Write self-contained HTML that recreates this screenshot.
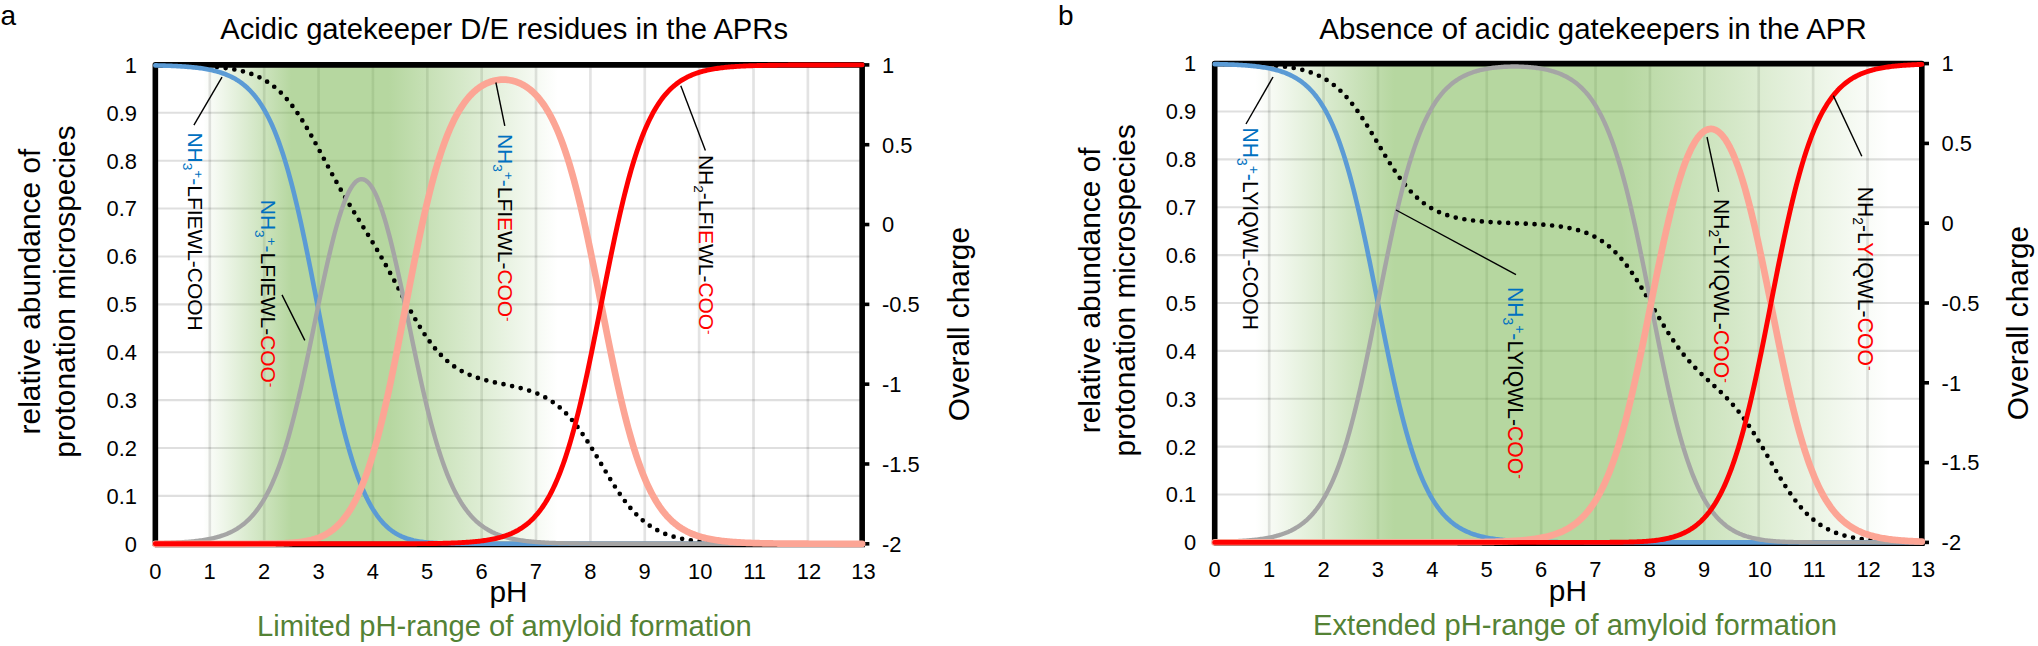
<!DOCTYPE html>
<html><head><meta charset="utf-8"><title>Protonation microspecies</title>
<style>html,body{margin:0;padding:0;background:#fff}svg{display:block}</style></head>
<body>
<svg width="2038" height="646" viewBox="0 0 2038 646" font-family='"Liberation Sans", sans-serif' fill="#000">
<defs><linearGradient id="ga" x1="0" y1="0" x2="1" y2="0"><stop offset="0.0000" stop-color="#6daf41" stop-opacity="0.000"/><stop offset="0.0677" stop-color="#6daf41" stop-opacity="0.000"/><stop offset="0.1923" stop-color="#6daf41" stop-opacity="0.500"/><stop offset="0.3308" stop-color="#6daf41" stop-opacity="0.500"/><stop offset="0.5692" stop-color="#6daf41" stop-opacity="0.000"/><stop offset="1.0000" stop-color="#6daf41" stop-opacity="0.000"/></linearGradient></defs>
<path d="M209.82 64.90V543.80M264.19 64.90V543.80M318.56 64.90V543.80M372.93 64.90V543.80M427.30 64.90V543.80M481.67 64.90V543.80M536.03 64.90V543.80M590.40 64.90V543.80M644.77 64.90V543.80M699.14 64.90V543.80M753.51 64.90V543.80M807.88 64.90V543.80" stroke="#000" stroke-opacity="0.11" stroke-width="2.7" fill="none"/>
<path d="M155.35 495.91H862.15M155.35 448.02H862.15M155.35 400.13H862.15M155.35 352.24H862.15M155.35 304.35H862.15M155.35 256.46H862.15M155.35 208.57H862.15M155.35 160.68H862.15M155.35 112.79H862.15" stroke="#000" stroke-opacity="0.125" stroke-width="2.1" fill="none"/>
<rect x="155.35" y="64.90" width="706.80" height="478.90" fill="url(#ga)"/>
<path d="M155.35 545.80V64.90H862.15V546.60" stroke="#000" stroke-width="5.60" fill="none" stroke-linejoin="round"/>
<path d="M154.85 544.55H864.95" stroke="#000" stroke-width="5.60" fill="none"/>
<path d="M862.15 64.90h7.20" stroke="#000" stroke-width="3.6"/>
<path d="M862.15 144.72h7.20" stroke="#000" stroke-width="3.6"/>
<path d="M862.15 224.53h7.20" stroke="#000" stroke-width="3.6"/>
<path d="M862.15 304.35h7.20" stroke="#000" stroke-width="3.6"/>
<path d="M862.15 384.17h7.20" stroke="#000" stroke-width="3.6"/>
<path d="M862.15 463.98h7.20" stroke="#000" stroke-width="3.6"/>
<path d="M862.15 543.80h7.20" stroke="#000" stroke-width="3.6"/>
<path d="M155.35 65.06L156.71 65.07L158.07 65.08L159.43 65.09L160.79 65.11L162.15 65.12L163.51 65.13L164.86 65.14L166.22 65.16L167.58 65.17L168.94 65.19L170.30 65.21L171.66 65.23L173.02 65.24L174.38 65.26L175.74 65.29L177.10 65.31L178.46 65.33L179.82 65.36L181.18 65.39L182.53 65.41L183.89 65.45L185.25 65.48L186.61 65.51L187.97 65.55L189.33 65.59L190.69 65.63L192.05 65.67L193.41 65.71L194.77 65.76L196.13 65.81L197.49 65.87L198.85 65.92L200.20 65.98L201.56 66.05L202.92 66.12L204.28 66.19L205.64 66.26L207.00 66.34L208.36 66.43L209.72 66.52L211.08 66.61L212.44 66.71L213.80 66.82L215.16 66.93L216.52 67.05L217.87 67.18L219.23 67.31L220.59 67.45L221.95 67.60L223.31 67.76L224.67 67.92L226.03 68.10L227.39 68.28L228.75 68.48L230.11 68.69L231.47 68.91L232.83 69.14L234.19 69.38L235.54 69.64L236.90 69.91L238.26 70.20L239.62 70.50L240.98 70.82L242.34 71.16L243.70 71.52L245.06 71.89L246.42 72.29L247.78 72.71L249.14 73.15L250.50 73.61L251.86 74.10L253.21 74.61L254.57 75.15L255.93 75.72L257.29 76.32L258.65 76.95L260.01 77.61L261.37 78.30L262.73 79.03L264.09 79.79L265.45 80.59L266.81 81.43L268.17 82.31L269.53 83.23L270.88 84.19L272.24 85.19L273.60 86.24L274.96 87.34L276.32 88.49L277.68 89.68L279.04 90.92L280.40 92.21L281.76 93.56L283.12 94.96L284.48 96.41L285.84 97.91L287.20 99.47L288.55 101.08L289.91 102.75L291.27 104.47L292.63 106.25L293.99 108.08L295.35 109.96L296.71 111.90L298.07 113.88L299.43 115.92L300.79 118.01L302.15 120.14L303.51 122.32L304.87 124.55L306.22 126.81L307.58 129.12L308.94 131.46L310.30 133.83L311.66 136.24L313.02 138.67L314.38 141.13L315.74 143.61L317.10 146.11L318.46 148.63L319.82 151.16L321.18 153.69L322.54 156.24L323.89 158.78L325.25 161.33L326.61 163.88L327.97 166.41L329.33 168.95L330.69 171.47L332.05 173.98L333.41 176.48L334.77 178.96L336.13 181.42L337.49 183.87L338.85 186.29L340.21 188.70L341.56 191.09L342.92 193.46L344.28 195.81L345.64 198.14L347.00 200.45L348.36 202.74L349.72 205.01L351.08 207.27L352.44 209.52L353.80 211.75L355.16 213.97L356.52 216.18L357.88 218.39L359.23 220.59L360.59 222.78L361.95 224.97L363.31 227.17L364.67 229.36L366.03 231.56L367.39 233.77L368.75 235.98L370.11 238.21L371.47 240.45L372.83 242.70L374.19 244.96L375.55 247.25L376.90 249.55L378.26 251.87L379.62 254.20L380.98 256.56L382.34 258.94L383.70 261.33L385.06 263.75L386.42 266.19L387.78 268.64L389.14 271.11L390.50 273.60L391.86 276.10L393.22 278.62L394.57 281.15L395.93 283.68L397.29 286.23L398.65 288.77L400.01 291.32L401.37 293.87L402.73 296.41L404.09 298.95L405.45 301.48L406.81 303.99L408.17 306.48L409.53 308.96L410.89 311.41L412.24 313.84L413.60 316.24L414.96 318.60L416.32 320.93L417.68 323.22L419.04 325.48L420.40 327.69L421.76 329.85L423.12 331.98L424.48 334.05L425.84 336.07L427.20 338.04L428.56 339.97L429.91 341.83L431.27 343.65L432.63 345.41L433.99 347.12L435.35 348.77L436.71 350.37L438.07 351.92L439.43 353.41L440.79 354.85L442.15 356.24L443.51 357.57L444.87 358.86L446.23 360.09L447.58 361.28L448.94 362.42L450.30 363.51L451.66 364.56L453.02 365.56L454.38 366.53L455.74 367.45L457.10 368.33L458.46 369.18L459.82 369.98L461.18 370.76L462.54 371.49L463.90 372.20L465.25 372.88L466.61 373.52L467.97 374.14L469.33 374.73L470.69 375.29L472.05 375.84L473.41 376.35L474.77 376.85L476.13 377.32L477.49 377.78L478.85 378.22L480.21 378.64L481.57 379.04L482.92 379.43L484.28 379.81L485.64 380.17L487.00 380.52L488.36 380.86L489.72 381.19L491.08 381.52L492.44 381.83L493.80 382.14L495.16 382.44L496.52 382.73L497.88 383.03L499.24 383.31L500.59 383.60L501.95 383.88L503.31 384.16L504.67 384.45L506.03 384.73L507.39 385.02L508.75 385.30L510.11 385.59L511.47 385.89L512.83 386.19L514.19 386.50L515.55 386.81L516.91 387.13L518.26 387.46L519.62 387.80L520.98 388.15L522.34 388.52L523.70 388.89L525.06 389.28L526.42 389.68L527.78 390.10L529.14 390.54L530.50 390.99L531.86 391.46L533.22 391.96L534.58 392.47L535.93 393.01L537.29 393.57L538.65 394.16L540.01 394.77L541.37 395.41L542.73 396.08L544.09 396.78L545.45 397.52L546.81 398.28L548.17 399.08L549.53 399.92L550.89 400.79L552.25 401.70L553.60 402.65L554.96 403.65L556.32 404.68L557.68 405.76L559.04 406.88L560.40 408.05L561.76 409.26L563.12 410.52L564.48 411.83L565.84 413.19L567.20 414.60L568.56 416.06L569.92 417.57L571.27 419.13L572.63 420.74L573.99 422.40L575.35 424.11L576.71 425.87L578.07 427.68L579.43 429.53L580.79 431.43L582.15 433.37L583.51 435.36L584.87 437.39L586.23 439.46L587.59 441.56L588.94 443.70L590.30 445.87L591.66 448.07L593.02 450.29L594.38 452.53L595.74 454.79L597.10 457.07L598.46 459.36L599.82 461.65L601.18 463.95L602.54 466.25L603.90 468.55L605.26 470.83L606.61 473.11L607.97 475.37L609.33 477.61L610.69 479.83L612.05 482.03L613.41 484.19L614.77 486.33L616.13 488.43L617.49 490.49L618.85 492.52L620.21 494.50L621.57 496.44L622.93 498.34L624.28 500.19L625.64 501.99L627.00 503.74L628.36 505.44L629.72 507.09L631.08 508.70L632.44 510.25L633.80 511.75L635.16 513.20L636.52 514.60L637.88 515.95L639.24 517.24L640.60 518.49L641.95 519.70L643.31 520.85L644.67 521.96L646.03 523.02L647.39 524.04L648.75 525.02L650.11 525.95L651.47 526.84L652.83 527.69L654.19 528.51L655.55 529.29L656.91 530.03L658.27 530.74L659.62 531.41L660.98 532.05L662.34 532.66L663.70 533.25L665.06 533.80L666.42 534.33L667.78 534.83L669.14 535.30L670.50 535.75L671.86 536.18L673.22 536.59L674.58 536.97L675.94 537.34L677.29 537.69L678.65 538.02L680.01 538.33L681.37 538.63L682.73 538.91L684.09 539.17L685.45 539.42L686.81 539.66L688.17 539.89L689.53 540.10L690.89 540.30L692.25 540.50L693.61 540.68L694.96 540.85L696.32 541.01L697.68 541.16L699.04 541.31L700.40 541.45L701.76 541.58L703.12 541.70L704.48 541.82L705.84 541.93L707.20 542.03L708.56 542.13L709.92 542.22L711.28 542.31L712.63 542.39L713.99 542.47L715.35 542.54L716.71 542.61L718.07 542.68L719.43 542.74L720.79 542.80L722.15 542.85L723.51 542.91L724.87 542.96L726.23 543.00L727.59 543.05L728.95 543.09L730.30 543.13L731.66 543.17L733.02 543.20L734.38 543.24L735.74 543.27L737.10 543.30L738.46 543.32L739.82 543.35L741.18 543.38L742.54 543.40L743.90 543.42L745.26 543.44L746.62 543.46L747.97 543.48L749.33 543.50L750.69 543.52L752.05 543.53L753.41 543.55L754.77 543.56L756.13 543.57L757.49 543.59L758.85 543.60L760.21 543.61L761.57 543.62L762.93 543.63L764.29 543.64L765.64 543.65L767.00 543.66L768.36 543.67L769.72 543.67L771.08 543.68L772.44 543.69L773.80 543.69L775.16 543.70L776.52 543.70L777.88 543.71L779.24 543.72L780.60 543.72L781.96 543.72L783.31 543.73L784.67 543.73L786.03 543.74L787.39 543.74L788.75 543.74L790.11 543.75L791.47 543.75L792.83 543.75L794.19 543.76L795.55 543.76L796.91 543.76L798.27 543.76L799.63 543.76L800.98 543.77L802.34 543.77L803.70 543.77L805.06 543.77L806.42 543.77L807.78 543.77L809.14 543.78L810.50 543.78L811.86 543.78L813.22 543.78L814.58 543.78L815.94 543.78L817.30 543.78L818.65 543.78L820.01 543.78L821.37 543.79L822.73 543.79L824.09 543.79L825.45 543.79L826.81 543.79L828.17 543.79L829.53 543.79L830.89 543.79L832.25 543.79L833.61 543.79L834.97 543.79L836.32 543.79L837.68 543.79L839.04 543.79L840.40 543.79L841.76 543.79L843.12 543.79L844.48 543.79L845.84 543.79L847.20 543.80L848.56 543.80L849.92 543.80L851.28 543.80L852.64 543.80L853.99 543.80L855.35 543.80L856.71 543.80L858.07 543.80L859.43 543.80L860.79 543.80L862.15 543.80" stroke="#000" stroke-width="4.7" stroke-dasharray="0 8.8" stroke-linecap="round" fill="none"/>
<path d="M155.35 65.39L156.71 65.42L158.07 65.45L159.43 65.48L160.79 65.52L162.15 65.55L163.51 65.59L164.86 65.63L166.22 65.68L167.58 65.72L168.94 65.77L170.30 65.82L171.66 65.88L173.02 65.93L174.38 65.99L175.74 66.06L177.10 66.13L178.46 66.20L179.82 66.28L181.18 66.36L182.53 66.44L183.89 66.54L185.25 66.63L186.61 66.73L187.97 66.84L189.33 66.96L190.69 67.08L192.05 67.21L193.41 67.34L194.77 67.49L196.13 67.64L197.49 67.80L198.85 67.97L200.20 68.15L201.56 68.34L202.92 68.55L204.28 68.76L205.64 68.99L207.00 69.23L208.36 69.48L209.72 69.75L211.08 70.04L212.44 70.34L213.80 70.66L215.16 70.99L216.52 71.35L217.87 71.73L219.23 72.12L220.59 72.55L221.95 72.99L223.31 73.46L224.67 73.96L226.03 74.49L227.39 75.04L228.75 75.63L230.11 76.25L231.47 76.91L232.83 77.60L234.19 78.33L235.54 79.11L236.90 79.92L238.26 80.78L239.62 81.69L240.98 82.65L242.34 83.66L243.70 84.73L245.06 85.86L246.42 87.04L247.78 88.29L249.14 89.61L250.50 90.99L251.86 92.45L253.21 93.99L254.57 95.60L255.93 97.30L257.29 99.09L258.65 100.97L260.01 102.94L261.37 105.01L262.73 107.18L264.09 109.46L265.45 111.85L266.81 114.35L268.17 116.97L269.53 119.71L270.88 122.57L272.24 125.57L273.60 128.70L274.96 131.96L276.32 135.36L277.68 138.91L279.04 142.60L280.40 146.44L281.76 150.43L283.12 154.57L284.48 158.87L285.84 163.32L287.20 167.92L288.55 172.69L289.91 177.61L291.27 182.68L292.63 187.91L293.99 193.29L295.35 198.83L296.71 204.50L298.07 210.33L299.43 216.28L300.79 222.37L302.15 228.59L303.51 234.93L304.87 241.38L306.22 247.94L307.58 254.59L308.94 261.33L310.30 268.15L311.66 275.03L313.02 281.97L314.38 288.96L315.74 295.98L317.10 303.02L318.46 310.08L319.82 317.13L321.18 324.17L322.54 331.19L323.89 338.17L325.25 345.11L326.61 351.99L327.97 358.80L329.33 365.53L330.69 372.17L332.05 378.72L333.41 385.16L334.77 391.48L336.13 397.68L337.49 403.76L338.85 409.70L340.21 415.50L341.56 421.15L342.92 426.66L344.28 432.01L345.64 437.21L347.00 442.25L348.36 447.14L349.72 451.86L351.08 456.43L352.44 460.83L353.80 465.08L355.16 469.17L356.52 473.11L357.88 476.89L359.23 480.51L360.59 483.99L361.95 487.33L363.31 490.51L364.67 493.56L366.03 496.47L367.39 499.25L368.75 501.90L370.11 504.42L371.47 506.82L372.83 509.11L374.19 511.27L375.55 513.33L376.90 515.28L378.26 517.13L379.62 518.88L380.98 520.53L382.34 522.10L383.70 523.57L385.06 524.96L386.42 526.27L387.78 527.51L389.14 528.67L390.50 529.76L391.86 530.78L393.22 531.74L394.57 532.64L395.93 533.48L397.29 534.27L398.65 535.01L400.01 535.69L401.37 536.33L402.73 536.93L404.09 537.48L405.45 537.99L406.81 538.47L408.17 538.91L409.53 539.32L410.89 539.70L412.24 540.05L413.60 540.38L414.96 540.67L416.32 540.95L417.68 541.20L419.04 541.43L420.40 541.65L421.76 541.84L423.12 542.02L424.48 542.18L425.84 542.33L427.20 542.47L428.56 542.60L429.91 542.71L431.27 542.81L432.63 542.91L433.99 543.00L435.35 543.07L436.71 543.14L438.07 543.21L439.43 543.27L440.79 543.32L442.15 543.37L443.51 543.41L444.87 543.45L446.23 543.48L447.58 543.52L448.94 543.55L450.30 543.57L451.66 543.59L453.02 543.62L454.38 543.63L455.74 543.65L457.10 543.67L458.46 543.68L459.82 543.69L461.18 543.70L462.54 543.71L463.90 543.72L465.25 543.73L466.61 543.74L467.97 543.75L469.33 543.75L470.69 543.76L472.05 543.76L473.41 543.76L474.77 543.77L476.13 543.77L477.49 543.77L478.85 543.78L480.21 543.78L481.57 543.78L482.92 543.78L484.28 543.79L485.64 543.79L487.00 543.79L488.36 543.79L489.72 543.79L491.08 543.79L492.44 543.79L493.80 543.79L495.16 543.79L496.52 543.79L497.88 543.80L499.24 543.80L500.59 543.80L501.95 543.80L503.31 543.80L504.67 543.80L506.03 543.80L507.39 543.80L508.75 543.80L510.11 543.80L511.47 543.80L512.83 543.80L514.19 543.80L515.55 543.80L516.91 543.80L518.26 543.80L519.62 543.80L520.98 543.80L522.34 543.80L523.70 543.80L525.06 543.80L526.42 543.80L527.78 543.80L529.14 543.80L530.50 543.80L531.86 543.80L533.22 543.80L534.58 543.80L535.93 543.80L537.29 543.80L538.65 543.80L540.01 543.80L541.37 543.80L542.73 543.80L544.09 543.80L545.45 543.80L546.81 543.80L548.17 543.80L549.53 543.80L550.89 543.80L552.25 543.80L553.60 543.80L554.96 543.80L556.32 543.80L557.68 543.80L559.04 543.80L560.40 543.80L561.76 543.80L563.12 543.80L564.48 543.80L565.84 543.80L567.20 543.80L568.56 543.80L569.92 543.80L571.27 543.80L572.63 543.80L573.99 543.80L575.35 543.80L576.71 543.80L578.07 543.80L579.43 543.80L580.79 543.80L582.15 543.80L583.51 543.80L584.87 543.80L586.23 543.80L587.59 543.80L588.94 543.80L590.30 543.80L591.66 543.80L593.02 543.80L594.38 543.80L595.74 543.80L597.10 543.80L598.46 543.80L599.82 543.80L601.18 543.80L602.54 543.80L603.90 543.80L605.26 543.80L606.61 543.80L607.97 543.80L609.33 543.80L610.69 543.80L612.05 543.80L613.41 543.80L614.77 543.80L616.13 543.80L617.49 543.80L618.85 543.80L620.21 543.80L621.57 543.80L622.93 543.80L624.28 543.80L625.64 543.80L627.00 543.80L628.36 543.80L629.72 543.80L631.08 543.80L632.44 543.80L633.80 543.80L635.16 543.80L636.52 543.80L637.88 543.80L639.24 543.80L640.60 543.80L641.95 543.80L643.31 543.80L644.67 543.80L646.03 543.80L647.39 543.80L648.75 543.80L650.11 543.80L651.47 543.80L652.83 543.80L654.19 543.80L655.55 543.80L656.91 543.80L658.27 543.80L659.62 543.80L660.98 543.80L662.34 543.80L663.70 543.80L665.06 543.80L666.42 543.80L667.78 543.80L669.14 543.80L670.50 543.80L671.86 543.80L673.22 543.80L674.58 543.80L675.94 543.80L677.29 543.80L678.65 543.80L680.01 543.80L681.37 543.80L682.73 543.80L684.09 543.80L685.45 543.80L686.81 543.80L688.17 543.80L689.53 543.80L690.89 543.80L692.25 543.80L693.61 543.80L694.96 543.80L696.32 543.80L697.68 543.80L699.04 543.80L700.40 543.80L701.76 543.80L703.12 543.80L704.48 543.80L705.84 543.80L707.20 543.80L708.56 543.80L709.92 543.80L711.28 543.80L712.63 543.80L713.99 543.80L715.35 543.80L716.71 543.80L718.07 543.80L719.43 543.80L720.79 543.80L722.15 543.80L723.51 543.80L724.87 543.80L726.23 543.80L727.59 543.80L728.95 543.80L730.30 543.80L731.66 543.80L733.02 543.80L734.38 543.80L735.74 543.80L737.10 543.80L738.46 543.80L739.82 543.80L741.18 543.80L742.54 543.80L743.90 543.80L745.26 543.80L746.62 543.80L747.97 543.80L749.33 543.80L750.69 543.80L752.05 543.80L753.41 543.80L754.77 543.80L756.13 543.80L757.49 543.80L758.85 543.80L760.21 543.80L761.57 543.80L762.93 543.80L764.29 543.80L765.64 543.80L767.00 543.80L768.36 543.80L769.72 543.80L771.08 543.80L772.44 543.80L773.80 543.80L775.16 543.80L776.52 543.80L777.88 543.80L779.24 543.80L780.60 543.80L781.96 543.80L783.31 543.80L784.67 543.80L786.03 543.80L787.39 543.80L788.75 543.80L790.11 543.80L791.47 543.80L792.83 543.80L794.19 543.80L795.55 543.80L796.91 543.80L798.27 543.80L799.63 543.80L800.98 543.80L802.34 543.80L803.70 543.80L805.06 543.80L806.42 543.80L807.78 543.80L809.14 543.80L810.50 543.80L811.86 543.80L813.22 543.80L814.58 543.80L815.94 543.80L817.30 543.80L818.65 543.80L820.01 543.80L821.37 543.80L822.73 543.80L824.09 543.80L825.45 543.80L826.81 543.80L828.17 543.80L829.53 543.80L830.89 543.80L832.25 543.80L833.61 543.80L834.97 543.80L836.32 543.80L837.68 543.80L839.04 543.80L840.40 543.80L841.76 543.80L843.12 543.80L844.48 543.80L845.84 543.80L847.20 543.80L848.56 543.80L849.92 543.80L851.28 543.80L852.64 543.80L853.99 543.80L855.35 543.80L856.71 543.80L858.07 543.80L859.43 543.80L860.79 543.80L862.15 543.80" stroke="#5b9bd5" stroke-width="4.6" stroke-linecap="round" stroke-linejoin="round" fill="none"/>
<path d="M155.35 543.31L156.71 543.28L158.07 543.25L159.43 543.22L160.79 543.18L162.15 543.15L163.51 543.11L164.86 543.07L166.22 543.02L167.58 542.98L168.94 542.93L170.30 542.88L171.66 542.82L173.02 542.77L174.38 542.71L175.74 542.64L177.10 542.57L178.46 542.50L179.82 542.42L181.18 542.34L182.53 542.26L183.89 542.16L185.25 542.07L186.61 541.97L187.97 541.86L189.33 541.74L190.69 541.62L192.05 541.49L193.41 541.36L194.77 541.21L196.13 541.06L197.49 540.90L198.85 540.73L200.20 540.55L201.56 540.36L202.92 540.15L204.28 539.94L205.64 539.71L207.00 539.47L208.36 539.22L209.72 538.95L211.08 538.66L212.44 538.36L213.80 538.05L215.16 537.71L216.52 537.35L217.87 536.98L219.23 536.58L220.59 536.16L221.95 535.71L223.31 535.24L224.67 534.74L226.03 534.22L227.39 533.66L228.75 533.07L230.11 532.45L231.47 531.80L232.83 531.11L234.19 530.38L235.54 529.60L236.90 528.79L238.26 527.93L239.62 527.02L240.98 526.06L242.34 525.05L243.70 523.99L245.06 522.87L246.42 521.69L247.78 520.44L249.14 519.13L250.50 517.74L251.86 516.29L253.21 514.76L254.57 513.15L255.93 511.45L257.29 509.67L258.65 507.81L260.01 505.84L261.37 503.78L262.73 501.62L264.09 499.35L265.45 496.98L266.81 494.49L268.17 491.89L269.53 489.17L270.88 486.32L272.24 483.35L273.60 480.24L274.96 477.01L276.32 473.63L277.68 470.12L279.04 466.47L280.40 462.67L281.76 458.72L283.12 454.63L284.48 450.39L285.84 446.00L287.20 441.46L288.55 436.77L289.91 431.93L291.27 426.94L292.63 421.81L293.99 416.54L295.35 411.13L296.71 405.58L298.07 399.90L299.43 394.10L300.79 388.17L302.15 382.14L303.51 376.01L304.87 369.78L306.22 363.46L307.58 357.07L308.94 350.61L310.30 344.11L311.66 337.56L313.02 330.98L314.38 324.38L315.74 317.78L317.10 311.20L318.46 304.63L319.82 298.11L321.18 291.63L322.54 285.23L323.89 278.90L325.25 272.67L326.61 266.55L327.97 260.55L329.33 254.68L330.69 248.96L332.05 243.40L333.41 238.01L334.77 232.81L336.13 227.79L337.49 222.98L338.85 218.39L340.21 214.01L341.56 209.87L342.92 205.96L344.28 202.30L345.64 198.89L347.00 195.73L348.36 192.84L349.72 190.22L351.08 187.87L352.44 185.79L353.80 183.99L355.16 182.47L356.52 181.24L357.88 180.29L359.23 179.63L360.59 179.25L361.95 179.17L363.31 179.37L364.67 179.86L366.03 180.64L367.39 181.70L368.75 183.05L370.11 184.68L371.47 186.59L372.83 188.78L374.19 191.24L375.55 193.97L376.90 196.97L378.26 200.23L379.62 203.74L380.98 207.50L382.34 211.50L383.70 215.74L385.06 220.21L386.42 224.89L387.78 229.79L389.14 234.88L390.50 240.16L391.86 245.62L393.22 251.25L394.57 257.03L395.93 262.95L397.29 269.00L398.65 275.17L400.01 281.45L401.37 287.81L402.73 294.24L404.09 300.74L405.45 307.28L406.81 313.86L408.17 320.45L409.53 327.06L410.89 333.65L412.24 340.22L413.60 346.76L414.96 353.25L416.32 359.68L417.68 366.04L419.04 372.33L420.40 378.52L421.76 384.62L423.12 390.61L424.48 396.49L425.84 402.25L427.20 407.87L428.56 413.37L429.91 418.73L431.27 423.95L432.63 429.03L433.99 433.96L435.35 438.74L436.71 443.37L438.07 447.85L439.43 452.18L440.79 456.37L442.15 460.40L443.51 464.29L444.87 468.03L446.23 471.63L447.58 475.09L448.94 478.41L450.30 481.59L451.66 484.64L453.02 487.57L454.38 490.36L455.74 493.04L457.10 495.60L458.46 498.04L459.82 500.37L461.18 502.60L462.54 504.72L463.90 506.74L465.25 508.67L466.61 510.50L467.97 512.25L469.33 513.91L470.69 515.49L472.05 516.99L473.41 518.41L474.77 519.77L476.13 521.05L477.49 522.27L478.85 523.43L480.21 524.53L481.57 525.58L482.92 526.56L484.28 527.50L485.64 528.39L487.00 529.23L488.36 530.03L489.72 530.79L491.08 531.50L492.44 532.18L493.80 532.82L495.16 533.43L496.52 534.00L497.88 534.55L499.24 535.06L500.59 535.55L501.95 536.01L503.31 536.44L504.67 536.86L506.03 537.24L507.39 537.61L508.75 537.96L510.11 538.29L511.47 538.60L512.83 538.90L514.19 539.17L515.55 539.44L516.91 539.68L518.26 539.92L519.62 540.14L520.98 540.35L522.34 540.55L523.70 540.73L525.06 540.91L526.42 541.08L527.78 541.24L529.14 541.38L530.50 541.53L531.86 541.66L533.22 541.78L534.58 541.90L535.93 542.01L537.29 542.12L538.65 542.22L540.01 542.31L541.37 542.40L542.73 542.48L544.09 542.56L545.45 542.64L546.81 542.71L548.17 542.78L549.53 542.84L550.89 542.90L552.25 542.95L553.60 543.01L554.96 543.05L556.32 543.10L557.68 543.15L559.04 543.19L560.40 543.23L561.76 543.26L563.12 543.30L564.48 543.33L565.84 543.36L567.20 543.39L568.56 543.42L569.92 543.44L571.27 543.47L572.63 543.49L573.99 543.51L575.35 543.53L576.71 543.55L578.07 543.57L579.43 543.58L580.79 543.60L582.15 543.61L583.51 543.63L584.87 543.64L586.23 543.65L587.59 543.66L588.94 543.67L590.30 543.68L591.66 543.69L593.02 543.70L594.38 543.71L595.74 543.72L597.10 543.72L598.46 543.73L599.82 543.73L601.18 543.74L602.54 543.74L603.90 543.75L605.26 543.75L606.61 543.76L607.97 543.76L609.33 543.76L610.69 543.77L612.05 543.77L613.41 543.77L614.77 543.78L616.13 543.78L617.49 543.78L618.85 543.78L620.21 543.78L621.57 543.78L622.93 543.79L624.28 543.79L625.64 543.79L627.00 543.79L628.36 543.79L629.72 543.79L631.08 543.79L632.44 543.79L633.80 543.79L635.16 543.79L636.52 543.80L637.88 543.80L639.24 543.80L640.60 543.80L641.95 543.80L643.31 543.80L644.67 543.80L646.03 543.80L647.39 543.80L648.75 543.80L650.11 543.80L651.47 543.80L652.83 543.80L654.19 543.80L655.55 543.80L656.91 543.80L658.27 543.80L659.62 543.80L660.98 543.80L662.34 543.80L663.70 543.80L665.06 543.80L666.42 543.80L667.78 543.80L669.14 543.80L670.50 543.80L671.86 543.80L673.22 543.80L674.58 543.80L675.94 543.80L677.29 543.80L678.65 543.80L680.01 543.80L681.37 543.80L682.73 543.80L684.09 543.80L685.45 543.80L686.81 543.80L688.17 543.80L689.53 543.80L690.89 543.80L692.25 543.80L693.61 543.80L694.96 543.80L696.32 543.80L697.68 543.80L699.04 543.80L700.40 543.80L701.76 543.80L703.12 543.80L704.48 543.80L705.84 543.80L707.20 543.80L708.56 543.80L709.92 543.80L711.28 543.80L712.63 543.80L713.99 543.80L715.35 543.80L716.71 543.80L718.07 543.80L719.43 543.80L720.79 543.80L722.15 543.80L723.51 543.80L724.87 543.80L726.23 543.80L727.59 543.80L728.95 543.80L730.30 543.80L731.66 543.80L733.02 543.80L734.38 543.80L735.74 543.80L737.10 543.80L738.46 543.80L739.82 543.80L741.18 543.80L742.54 543.80L743.90 543.80L745.26 543.80L746.62 543.80L747.97 543.80L749.33 543.80L750.69 543.80L752.05 543.80L753.41 543.80L754.77 543.80L756.13 543.80L757.49 543.80L758.85 543.80L760.21 543.80L761.57 543.80L762.93 543.80L764.29 543.80L765.64 543.80L767.00 543.80L768.36 543.80L769.72 543.80L771.08 543.80L772.44 543.80L773.80 543.80L775.16 543.80L776.52 543.80L777.88 543.80L779.24 543.80L780.60 543.80L781.96 543.80L783.31 543.80L784.67 543.80L786.03 543.80L787.39 543.80L788.75 543.80L790.11 543.80L791.47 543.80L792.83 543.80L794.19 543.80L795.55 543.80L796.91 543.80L798.27 543.80L799.63 543.80L800.98 543.80L802.34 543.80L803.70 543.80L805.06 543.80L806.42 543.80L807.78 543.80L809.14 543.80L810.50 543.80L811.86 543.80L813.22 543.80L814.58 543.80L815.94 543.80L817.30 543.80L818.65 543.80L820.01 543.80L821.37 543.80L822.73 543.80L824.09 543.80L825.45 543.80L826.81 543.80L828.17 543.80L829.53 543.80L830.89 543.80L832.25 543.80L833.61 543.80L834.97 543.80L836.32 543.80L837.68 543.80L839.04 543.80L840.40 543.80L841.76 543.80L843.12 543.80L844.48 543.80L845.84 543.80L847.20 543.80L848.56 543.80L849.92 543.80L851.28 543.80L852.64 543.80L853.99 543.80L855.35 543.80L856.71 543.80L858.07 543.80L859.43 543.80L860.79 543.80L862.15 543.80" stroke="#a5a5a5" stroke-width="4.4" stroke-linecap="round" stroke-linejoin="round" fill="none"/>
<path d="M155.35 543.80L156.71 543.80L158.07 543.80L159.43 543.80L160.79 543.80L162.15 543.80L163.51 543.80L164.86 543.80L166.22 543.80L167.58 543.80L168.94 543.80L170.30 543.80L171.66 543.80L173.02 543.80L174.38 543.80L175.74 543.80L177.10 543.80L178.46 543.80L179.82 543.80L181.18 543.80L182.53 543.80L183.89 543.80L185.25 543.80L186.61 543.80L187.97 543.80L189.33 543.80L190.69 543.80L192.05 543.80L193.41 543.80L194.77 543.80L196.13 543.80L197.49 543.80L198.85 543.80L200.20 543.80L201.56 543.80L202.92 543.80L204.28 543.80L205.64 543.80L207.00 543.80L208.36 543.80L209.72 543.80L211.08 543.80L212.44 543.80L213.80 543.80L215.16 543.80L216.52 543.80L217.87 543.80L219.23 543.80L220.59 543.80L221.95 543.80L223.31 543.80L224.67 543.80L226.03 543.80L227.39 543.79L228.75 543.79L230.11 543.79L231.47 543.79L232.83 543.79L234.19 543.79L235.54 543.79L236.90 543.79L238.26 543.79L239.62 543.79L240.98 543.78L242.34 543.78L243.70 543.78L245.06 543.78L246.42 543.77L247.78 543.77L249.14 543.77L250.50 543.76L251.86 543.76L253.21 543.75L254.57 543.75L255.93 543.74L257.29 543.74L258.65 543.73L260.01 543.72L261.37 543.71L262.73 543.70L264.09 543.69L265.45 543.68L266.81 543.66L268.17 543.65L269.53 543.63L270.88 543.61L272.24 543.59L273.60 543.56L274.96 543.53L276.32 543.50L277.68 543.47L279.04 543.43L280.40 543.39L281.76 543.35L283.12 543.30L284.48 543.24L285.84 543.18L287.20 543.12L288.55 543.04L289.91 542.96L291.27 542.87L292.63 542.77L293.99 542.67L295.35 542.55L296.71 542.42L298.07 542.28L299.43 542.12L300.79 541.95L302.15 541.76L303.51 541.56L304.87 541.34L306.22 541.10L307.58 540.84L308.94 540.56L310.30 540.25L311.66 539.92L313.02 539.55L314.38 539.16L315.74 538.74L317.10 538.28L318.46 537.79L319.82 537.26L321.18 536.69L322.54 536.08L323.89 535.42L325.25 534.72L326.61 533.96L327.97 533.15L329.33 532.29L330.69 531.37L332.05 530.38L333.41 529.33L334.77 528.21L336.13 527.02L337.49 525.76L338.85 524.42L340.21 522.99L341.56 521.48L342.92 519.88L344.28 518.19L345.64 516.40L347.00 514.51L348.36 512.52L349.72 510.42L351.08 508.21L352.44 505.88L353.80 503.43L355.16 500.86L356.52 498.16L357.88 495.33L359.23 492.36L360.59 489.26L361.95 486.01L363.31 482.62L364.67 479.08L366.03 475.39L367.39 471.55L368.75 467.56L370.11 463.40L371.47 459.09L372.83 454.62L374.19 449.99L375.55 445.20L376.90 440.26L378.26 435.15L379.62 429.89L380.98 424.48L382.34 418.91L383.70 413.20L385.06 407.34L386.42 401.35L387.78 395.22L389.14 388.97L390.50 382.60L391.86 376.12L393.22 369.54L394.57 362.86L395.93 356.10L397.29 349.26L398.65 342.36L400.01 335.40L401.37 328.41L402.73 321.38L404.09 314.34L405.45 307.28L406.81 300.23L408.17 293.20L409.53 286.20L410.89 279.23L412.24 272.32L413.60 265.47L414.96 258.69L416.32 251.99L417.68 245.38L419.04 238.88L420.40 232.48L421.76 226.20L423.12 220.04L424.48 214.01L425.84 208.12L427.20 202.37L428.56 196.76L429.91 191.31L431.27 186.00L432.63 180.85L433.99 175.86L435.35 171.02L436.71 166.34L438.07 161.82L439.43 157.46L440.79 153.25L442.15 149.20L443.51 145.30L444.87 141.56L446.23 137.96L447.58 134.51L448.94 131.20L450.30 128.03L451.66 125.01L453.02 122.11L454.38 119.35L455.74 116.71L457.10 114.20L458.46 111.80L459.82 109.52L461.18 107.36L462.54 105.30L463.90 103.35L465.25 101.50L466.61 99.75L467.97 98.09L469.33 96.52L470.69 95.04L472.05 93.65L473.41 92.34L474.77 91.11L476.13 89.95L477.49 88.87L478.85 87.85L480.21 86.91L481.57 86.03L482.92 85.22L484.28 84.46L485.64 83.77L487.00 83.14L488.36 82.56L489.72 82.04L491.08 81.57L492.44 81.15L493.80 80.79L495.16 80.48L496.52 80.21L497.88 80.00L499.24 79.83L500.59 79.71L501.95 79.64L503.31 79.62L504.67 79.64L506.03 79.71L507.39 79.83L508.75 79.99L510.11 80.21L511.47 80.47L512.83 80.79L514.19 81.15L515.55 81.56L516.91 82.03L518.26 82.55L519.62 83.13L520.98 83.76L522.34 84.45L523.70 85.20L525.06 86.01L526.42 86.89L527.78 87.83L529.14 88.84L530.50 89.92L531.86 91.08L533.22 92.31L534.58 93.61L535.93 95.00L537.29 96.48L538.65 98.04L540.01 99.69L541.37 101.44L542.73 103.28L544.09 105.22L545.45 107.27L546.81 109.43L548.17 111.70L549.53 114.08L550.89 116.58L552.25 119.20L553.60 121.95L554.96 124.83L556.32 127.84L557.68 130.98L559.04 134.27L560.40 137.69L561.76 141.26L563.12 144.98L564.48 148.84L565.84 152.86L567.20 157.03L568.56 161.35L569.92 165.83L571.27 170.46L572.63 175.24L573.99 180.18L575.35 185.27L576.71 190.50L578.07 195.89L579.43 201.42L580.79 207.09L582.15 212.90L583.51 218.83L584.87 224.89L586.23 231.07L587.59 237.36L588.94 243.75L590.30 250.24L591.66 256.81L593.02 263.46L594.38 270.18L595.74 276.95L597.10 283.77L598.46 290.62L599.82 297.49L601.18 304.38L602.54 311.27L603.90 318.14L605.26 325.00L606.61 331.82L607.97 338.59L609.33 345.31L610.69 351.96L612.05 358.54L613.41 365.04L614.77 371.44L616.13 377.73L617.49 383.92L618.85 389.99L620.21 395.94L621.57 401.76L622.93 407.44L624.28 412.98L625.64 418.38L627.00 423.64L628.36 428.74L629.72 433.70L631.08 438.51L632.44 443.16L633.80 447.66L635.16 452.00L636.52 456.20L637.88 460.25L639.24 464.14L640.60 467.89L641.95 471.50L643.31 474.96L644.67 478.28L646.03 481.47L647.39 484.53L648.75 487.45L650.11 490.25L651.47 492.93L652.83 495.49L654.19 497.93L655.55 500.26L656.91 502.49L658.27 504.61L659.62 506.63L660.98 508.56L662.34 510.39L663.70 512.14L665.06 513.80L666.42 515.38L667.78 516.88L669.14 518.30L670.50 519.66L671.86 520.94L673.22 522.16L674.58 523.32L675.94 524.42L677.29 525.46L678.65 526.45L680.01 527.39L681.37 528.28L682.73 529.12L684.09 529.92L685.45 530.67L686.81 531.39L688.17 532.07L689.53 532.71L690.89 533.31L692.25 533.89L693.61 534.43L694.96 534.95L696.32 535.43L697.68 535.89L699.04 536.33L700.40 536.74L701.76 537.13L703.12 537.50L704.48 537.85L705.84 538.18L707.20 538.49L708.56 538.78L709.92 539.06L711.28 539.32L712.63 539.57L713.99 539.80L715.35 540.03L716.71 540.24L718.07 540.43L719.43 540.62L720.79 540.80L722.15 540.96L723.51 541.12L724.87 541.27L726.23 541.41L727.59 541.54L728.95 541.67L730.30 541.79L731.66 541.90L733.02 542.01L734.38 542.11L735.74 542.20L737.10 542.29L738.46 542.37L739.82 542.45L741.18 542.53L742.54 542.60L743.90 542.67L745.26 542.73L746.62 542.79L747.97 542.85L749.33 542.90L750.69 542.95L752.05 543.00L753.41 543.04L754.77 543.08L756.13 543.12L757.49 543.16L758.85 543.20L760.21 543.23L761.57 543.26L762.93 543.29L764.29 543.32L765.64 543.35L767.00 543.37L768.36 543.40L769.72 543.42L771.08 543.44L772.44 543.46L773.80 543.48L775.16 543.50L776.52 543.51L777.88 543.53L779.24 543.55L780.60 543.56L781.96 543.57L783.31 543.59L784.67 543.60L786.03 543.61L787.39 543.62L788.75 543.63L790.11 543.64L791.47 543.65L792.83 543.66L794.19 543.67L795.55 543.67L796.91 543.68L798.27 543.69L799.63 543.69L800.98 543.70L802.34 543.70L803.70 543.71L805.06 543.71L806.42 543.72L807.78 543.72L809.14 543.73L810.50 543.73L811.86 543.74L813.22 543.74L814.58 543.74L815.94 543.75L817.30 543.75L818.65 543.75L820.01 543.75L821.37 543.76L822.73 543.76L824.09 543.76L825.45 543.76L826.81 543.77L828.17 543.77L829.53 543.77L830.89 543.77L832.25 543.77L833.61 543.77L834.97 543.78L836.32 543.78L837.68 543.78L839.04 543.78L840.40 543.78L841.76 543.78L843.12 543.78L844.48 543.78L845.84 543.78L847.20 543.79L848.56 543.79L849.92 543.79L851.28 543.79L852.64 543.79L853.99 543.79L855.35 543.79L856.71 543.79L858.07 543.79L859.43 543.79L860.79 543.79L862.15 543.79" stroke="#fca595" stroke-width="6.7" stroke-linecap="round" stroke-linejoin="round" fill="none"/>
<path d="M155.35 543.80L156.71 543.80L158.07 543.80L159.43 543.80L160.79 543.80L162.15 543.80L163.51 543.80L164.86 543.80L166.22 543.80L167.58 543.80L168.94 543.80L170.30 543.80L171.66 543.80L173.02 543.80L174.38 543.80L175.74 543.80L177.10 543.80L178.46 543.80L179.82 543.80L181.18 543.80L182.53 543.80L183.89 543.80L185.25 543.80L186.61 543.80L187.97 543.80L189.33 543.80L190.69 543.80L192.05 543.80L193.41 543.80L194.77 543.80L196.13 543.80L197.49 543.80L198.85 543.80L200.20 543.80L201.56 543.80L202.92 543.80L204.28 543.80L205.64 543.80L207.00 543.80L208.36 543.80L209.72 543.80L211.08 543.80L212.44 543.80L213.80 543.80L215.16 543.80L216.52 543.80L217.87 543.80L219.23 543.80L220.59 543.80L221.95 543.80L223.31 543.80L224.67 543.80L226.03 543.80L227.39 543.80L228.75 543.80L230.11 543.80L231.47 543.80L232.83 543.80L234.19 543.80L235.54 543.80L236.90 543.80L238.26 543.80L239.62 543.80L240.98 543.80L242.34 543.80L243.70 543.80L245.06 543.80L246.42 543.80L247.78 543.80L249.14 543.80L250.50 543.80L251.86 543.80L253.21 543.80L254.57 543.80L255.93 543.80L257.29 543.80L258.65 543.80L260.01 543.80L261.37 543.80L262.73 543.80L264.09 543.80L265.45 543.80L266.81 543.80L268.17 543.80L269.53 543.80L270.88 543.80L272.24 543.80L273.60 543.80L274.96 543.80L276.32 543.80L277.68 543.80L279.04 543.80L280.40 543.80L281.76 543.80L283.12 543.80L284.48 543.80L285.84 543.80L287.20 543.80L288.55 543.80L289.91 543.80L291.27 543.80L292.63 543.80L293.99 543.80L295.35 543.80L296.71 543.80L298.07 543.80L299.43 543.80L300.79 543.80L302.15 543.80L303.51 543.80L304.87 543.80L306.22 543.80L307.58 543.80L308.94 543.80L310.30 543.80L311.66 543.80L313.02 543.80L314.38 543.80L315.74 543.80L317.10 543.80L318.46 543.80L319.82 543.80L321.18 543.80L322.54 543.80L323.89 543.80L325.25 543.80L326.61 543.80L327.97 543.80L329.33 543.80L330.69 543.80L332.05 543.80L333.41 543.80L334.77 543.80L336.13 543.80L337.49 543.80L338.85 543.80L340.21 543.80L341.56 543.80L342.92 543.80L344.28 543.80L345.64 543.80L347.00 543.80L348.36 543.80L349.72 543.80L351.08 543.80L352.44 543.80L353.80 543.80L355.16 543.80L356.52 543.80L357.88 543.80L359.23 543.80L360.59 543.80L361.95 543.80L363.31 543.80L364.67 543.80L366.03 543.80L367.39 543.80L368.75 543.80L370.11 543.80L371.47 543.79L372.83 543.79L374.19 543.79L375.55 543.79L376.90 543.79L378.26 543.79L379.62 543.79L380.98 543.79L382.34 543.79L383.70 543.79L385.06 543.79L386.42 543.78L387.78 543.78L389.14 543.78L390.50 543.78L391.86 543.78L393.22 543.77L394.57 543.77L395.93 543.77L397.29 543.77L398.65 543.76L400.01 543.76L401.37 543.75L402.73 543.75L404.09 543.75L405.45 543.74L406.81 543.74L408.17 543.73L409.53 543.72L410.89 543.72L412.24 543.71L413.60 543.70L414.96 543.69L416.32 543.68L417.68 543.67L419.04 543.66L420.40 543.65L421.76 543.64L423.12 543.63L424.48 543.61L425.84 543.60L427.20 543.58L428.56 543.57L429.91 543.55L431.27 543.53L432.63 543.51L433.99 543.49L435.35 543.47L436.71 543.44L438.07 543.42L439.43 543.39L440.79 543.36L442.15 543.33L443.51 543.30L444.87 543.26L446.23 543.23L447.58 543.19L448.94 543.15L450.30 543.10L451.66 543.06L453.02 543.01L454.38 542.95L455.74 542.90L457.10 542.84L458.46 542.78L459.82 542.71L461.18 542.64L462.54 542.56L463.90 542.49L465.25 542.40L466.61 542.31L467.97 542.22L469.33 542.12L470.69 542.01L472.05 541.90L473.41 541.78L474.77 541.66L476.13 541.53L477.49 541.38L478.85 541.24L480.21 541.08L481.57 540.91L482.92 540.74L484.28 540.55L485.64 540.35L487.00 540.14L488.36 539.92L489.72 539.68L491.08 539.44L492.44 539.17L493.80 538.90L495.16 538.60L496.52 538.29L497.88 537.96L499.24 537.61L500.59 537.24L501.95 536.86L503.31 536.44L504.67 536.01L506.03 535.55L507.39 535.06L508.75 534.55L510.11 534.00L511.47 533.43L512.83 532.82L514.19 532.18L515.55 531.50L516.91 530.79L518.26 530.03L519.62 529.23L520.98 528.39L522.34 527.50L523.70 526.56L525.06 525.58L526.42 524.53L527.78 523.43L529.14 522.27L530.50 521.05L531.86 519.77L533.22 518.41L534.58 516.98L535.93 515.48L537.29 513.90L538.65 512.24L540.01 510.50L541.37 508.66L542.73 506.73L544.09 504.71L545.45 502.59L546.81 500.36L548.17 498.03L549.53 495.58L550.89 493.02L552.25 490.35L553.60 487.55L554.96 484.62L556.32 481.56L557.68 478.37L559.04 475.05L560.40 471.58L561.76 467.98L563.12 464.22L564.48 460.33L565.84 456.28L567.20 452.08L568.56 447.73L569.92 443.23L571.27 438.58L572.63 433.77L573.99 428.81L575.35 423.70L576.71 418.45L578.07 413.04L579.43 407.50L580.79 401.81L582.15 395.99L583.51 390.04L584.87 383.97L586.23 377.78L587.59 371.48L588.94 365.07L590.30 358.58L591.66 351.99L593.02 345.34L594.38 338.61L595.74 331.83L597.10 325.01L598.46 318.15L599.82 311.27L601.18 304.38L602.54 297.49L603.90 290.61L605.26 283.75L606.61 276.93L607.97 270.15L609.33 263.43L610.69 256.77L612.05 250.19L613.41 243.69L614.77 237.29L616.13 230.99L617.49 224.80L618.85 218.73L620.21 212.78L621.57 206.96L622.93 201.28L624.28 195.73L625.64 190.33L627.00 185.07L628.36 179.96L629.72 175.01L631.08 170.20L632.44 165.55L633.80 161.05L635.16 156.70L636.52 152.50L637.88 148.46L639.24 144.56L640.60 140.81L641.95 137.21L643.31 133.74L644.67 130.42L646.03 127.23L647.39 124.18L648.75 121.25L650.11 118.45L651.47 115.77L652.83 113.21L654.19 110.77L655.55 108.44L656.91 106.21L658.27 104.09L659.62 102.07L660.98 100.14L662.34 98.31L663.70 96.56L665.06 94.90L666.42 93.32L667.78 91.82L669.14 90.40L670.50 89.04L671.86 87.76L673.22 86.54L674.58 85.38L675.94 84.28L677.29 83.24L678.65 82.25L680.01 81.31L681.37 80.42L682.73 79.58L684.09 78.78L685.45 78.03L686.81 77.31L688.17 76.63L689.53 75.99L690.89 75.39L692.25 74.81L693.61 74.27L694.96 73.75L696.32 73.27L697.68 72.81L699.04 72.37L700.40 71.96L701.76 71.57L703.12 71.20L704.48 70.85L705.84 70.52L707.20 70.21L708.56 69.92L709.92 69.64L711.28 69.38L712.63 69.13L713.99 68.90L715.35 68.67L716.71 68.46L718.07 68.27L719.43 68.08L720.79 67.90L722.15 67.74L723.51 67.58L724.87 67.43L726.23 67.29L727.59 67.16L728.95 67.03L730.30 66.91L731.66 66.80L733.02 66.69L734.38 66.59L735.74 66.50L737.10 66.41L738.46 66.33L739.82 66.25L741.18 66.17L742.54 66.10L743.90 66.03L745.26 65.97L746.62 65.91L747.97 65.85L749.33 65.80L750.69 65.75L752.05 65.70L753.41 65.66L754.77 65.62L756.13 65.58L757.49 65.54L758.85 65.50L760.21 65.47L761.57 65.44L762.93 65.41L764.29 65.38L765.64 65.35L767.00 65.33L768.36 65.30L769.72 65.28L771.08 65.26L772.44 65.24L773.80 65.22L775.16 65.20L776.52 65.19L777.88 65.17L779.24 65.15L780.60 65.14L781.96 65.13L783.31 65.11L784.67 65.10L786.03 65.09L787.39 65.08L788.75 65.07L790.11 65.06L791.47 65.05L792.83 65.04L794.19 65.03L795.55 65.03L796.91 65.02L798.27 65.01L799.63 65.01L800.98 65.00L802.34 65.00L803.70 64.99L805.06 64.99L806.42 64.98L807.78 64.98L809.14 64.97L810.50 64.97L811.86 64.96L813.22 64.96L814.58 64.96L815.94 64.95L817.30 64.95L818.65 64.95L820.01 64.95L821.37 64.94L822.73 64.94L824.09 64.94L825.45 64.94L826.81 64.93L828.17 64.93L829.53 64.93L830.89 64.93L832.25 64.93L833.61 64.93L834.97 64.92L836.32 64.92L837.68 64.92L839.04 64.92L840.40 64.92L841.76 64.92L843.12 64.92L844.48 64.92L845.84 64.92L847.20 64.91L848.56 64.91L849.92 64.91L851.28 64.91L852.64 64.91L853.99 64.91L855.35 64.91L856.71 64.91L858.07 64.91L859.43 64.91L860.79 64.91L862.15 64.91" stroke="#ff0000" stroke-width="4.9" stroke-linecap="round" stroke-linejoin="round" fill="none"/>
<path d="M222.0 77.2L193.9 125.1" stroke="#000" stroke-width="1.4" fill="none"/>
<path d="M282.0 294.9L304.8 340.4" stroke="#000" stroke-width="1.4" fill="none"/>
<path d="M495.9 82.5L504.8 125.9" stroke="#000" stroke-width="1.4" fill="none"/>
<path d="M680.8 85.7L705.4 150.5" stroke="#000" stroke-width="1.4" fill="none"/>
<text x="137.0" y="551.6" font-size="21.9" text-anchor="end">0</text>
<text x="137.0" y="503.8" font-size="21.9" text-anchor="end">0.1</text>
<text x="137.0" y="455.9" font-size="21.9" text-anchor="end">0.2</text>
<text x="137.0" y="408.0" font-size="21.9" text-anchor="end">0.3</text>
<text x="137.0" y="360.1" font-size="21.9" text-anchor="end">0.4</text>
<text x="137.0" y="312.2" font-size="21.9" text-anchor="end">0.5</text>
<text x="137.0" y="264.3" font-size="21.9" text-anchor="end">0.6</text>
<text x="137.0" y="216.4" font-size="21.9" text-anchor="end">0.7</text>
<text x="137.0" y="168.5" font-size="21.9" text-anchor="end">0.8</text>
<text x="137.0" y="120.6" font-size="21.9" text-anchor="end">0.9</text>
<text x="137.0" y="72.7" font-size="21.9" text-anchor="end">1</text>
<text x="155.3" y="578.6" font-size="21.9" text-anchor="middle">0</text>
<text x="209.7" y="578.6" font-size="21.9" text-anchor="middle">1</text>
<text x="264.1" y="578.6" font-size="21.9" text-anchor="middle">2</text>
<text x="318.5" y="578.6" font-size="21.9" text-anchor="middle">3</text>
<text x="372.8" y="578.6" font-size="21.9" text-anchor="middle">4</text>
<text x="427.2" y="578.6" font-size="21.9" text-anchor="middle">5</text>
<text x="481.6" y="578.6" font-size="21.9" text-anchor="middle">6</text>
<text x="535.9" y="578.6" font-size="21.9" text-anchor="middle">7</text>
<text x="590.3" y="578.6" font-size="21.9" text-anchor="middle">8</text>
<text x="644.7" y="578.6" font-size="21.9" text-anchor="middle">9</text>
<text x="700.2" y="578.6" font-size="21.9" text-anchor="middle">10</text>
<text x="754.6" y="578.6" font-size="21.9" text-anchor="middle">11</text>
<text x="809.0" y="578.6" font-size="21.9" text-anchor="middle">12</text>
<text x="863.4" y="578.6" font-size="21.9" text-anchor="middle">13</text>
<text x="882.0" y="72.7" font-size="21.9">1</text>
<text x="882.0" y="152.6" font-size="21.9">0.5</text>
<text x="882.0" y="232.4" font-size="21.9">0</text>
<text x="882.0" y="312.2" font-size="21.9">-0.5</text>
<text x="882.0" y="392.0" font-size="21.9">-1</text>
<text x="882.0" y="471.8" font-size="21.9">-1.5</text>
<text x="882.0" y="551.6" font-size="21.9">-2</text>
<text x="0.5" y="24.7" font-size="28.0">a</text>
<text x="504.1" y="38.9" font-size="29.2" text-anchor="middle">Acidic gatekeeper D/E residues in the APRs</text>
<text x="508.6" y="602.0" font-size="29.8" text-anchor="middle">pH</text>
<text x="504.4" y="636.4" font-size="29.2" text-anchor="middle" fill="#548235">Limited pH-range of amyloid formation</text>
<text transform="translate(40.2 291.5) rotate(-90)" font-size="29.9" text-anchor="middle">relative abundance of</text>
<text transform="translate(74.5 291.5) rotate(-90)" font-size="29.9" text-anchor="middle">protonation microspecies</text>
<text transform="translate(968.9 324.1) rotate(-90)" font-size="29.9" text-anchor="middle">Overall charge</text>
<text transform="translate(188.0 132.5) rotate(90)" font-size="20.95"><tspan fill="#0070c0">NH</tspan><tspan fill="#0070c0" font-size="13.6" dy="5.03">3</tspan><tspan fill="#0070c0" font-size="13.6" dy="-11.52">+</tspan><tspan fill="#0070c0" dy="6.49">-</tspan><tspan fill="#000">LFIEWL-COOH</tspan></text>
<text transform="translate(260.5 199.8) rotate(90)" font-size="20.95"><tspan fill="#0070c0">NH</tspan><tspan fill="#0070c0" font-size="13.6" dy="5.03">3</tspan><tspan fill="#0070c0" font-size="13.6" dy="-11.52">+</tspan><tspan fill="#0070c0" dy="6.49">-</tspan><tspan fill="#000">LFIEWL-</tspan><tspan fill="#ff0000">COO</tspan><tspan fill="#ff0000" font-size="13.6" dy="-6.49">-</tspan></text>
<text transform="translate(498.0 134.0) rotate(90)" font-size="20.95"><tspan fill="#0070c0">NH</tspan><tspan fill="#0070c0" font-size="13.6" dy="5.03">3</tspan><tspan fill="#0070c0" font-size="13.6" dy="-11.52">+</tspan><tspan fill="#0070c0" dy="6.49">-</tspan><tspan fill="#000">LFI</tspan><tspan fill="#ff0000">E</tspan><tspan fill="#000">WL-</tspan><tspan fill="#ff0000">COO</tspan><tspan fill="#ff0000" font-size="13.6" dy="-6.49">-</tspan></text>
<text transform="translate(699.0 155.0) rotate(90)" font-size="20.95"><tspan fill="#000">NH</tspan><tspan fill="#000" font-size="13.6" dy="5.03">2</tspan><tspan fill="#000" dy="-5.03">-LFI</tspan><tspan fill="#ff0000">E</tspan><tspan fill="#000">WL-</tspan><tspan fill="#ff0000">COO</tspan><tspan fill="#ff0000" font-size="13.6" dy="-6.49">-</tspan></text>
<defs><linearGradient id="gb" x1="0" y1="0" x2="1" y2="0"><stop offset="0.0000" stop-color="#6daf41" stop-opacity="0.000"/><stop offset="0.0577" stop-color="#6daf41" stop-opacity="0.000"/><stop offset="0.2538" stop-color="#6daf41" stop-opacity="0.500"/><stop offset="0.5769" stop-color="#6daf41" stop-opacity="0.500"/><stop offset="0.9538" stop-color="#6daf41" stop-opacity="0.000"/><stop offset="1.0000" stop-color="#6daf41" stop-opacity="0.000"/></linearGradient></defs>
<path d="M1269.19 63.60V542.40M1323.58 63.60V542.40M1377.98 63.60V542.40M1432.37 63.60V542.40M1486.76 63.60V542.40M1541.15 63.60V542.40M1595.55 63.60V542.40M1649.94 63.60V542.40M1704.33 63.60V542.40M1758.72 63.60V542.40M1813.12 63.60V542.40M1867.51 63.60V542.40" stroke="#000" stroke-opacity="0.11" stroke-width="2.7" fill="none"/>
<path d="M1214.70 494.52H1921.80M1214.70 446.64H1921.80M1214.70 398.76H1921.80M1214.70 350.88H1921.80M1214.70 303.00H1921.80M1214.70 255.12H1921.80M1214.70 207.24H1921.80M1214.70 159.36H1921.80M1214.70 111.48H1921.80" stroke="#000" stroke-opacity="0.125" stroke-width="2.1" fill="none"/>
<rect x="1214.70" y="63.60" width="707.10" height="478.80" fill="url(#gb)"/>
<path d="M1214.70 544.40V63.60H1921.80V545.20" stroke="#000" stroke-width="5.60" fill="none" stroke-linejoin="round"/>
<path d="M1214.20 543.15H1924.60" stroke="#000" stroke-width="5.60" fill="none"/>
<path d="M1921.80 63.60h7.20" stroke="#000" stroke-width="3.6"/>
<path d="M1921.80 143.40h7.20" stroke="#000" stroke-width="3.6"/>
<path d="M1921.80 223.20h7.20" stroke="#000" stroke-width="3.6"/>
<path d="M1921.80 303.00h7.20" stroke="#000" stroke-width="3.6"/>
<path d="M1921.80 382.80h7.20" stroke="#000" stroke-width="3.6"/>
<path d="M1921.80 462.60h7.20" stroke="#000" stroke-width="3.6"/>
<path d="M1921.80 542.40h7.20" stroke="#000" stroke-width="3.6"/>
<path d="M1214.70 63.76L1216.06 63.77L1217.42 63.78L1218.78 63.79L1220.14 63.80L1221.50 63.81L1222.86 63.83L1224.22 63.84L1225.58 63.85L1226.94 63.87L1228.30 63.88L1229.66 63.90L1231.02 63.92L1232.38 63.94L1233.74 63.96L1235.10 63.98L1236.46 64.00L1237.82 64.02L1239.18 64.05L1240.54 64.08L1241.90 64.10L1243.26 64.13L1244.62 64.16L1245.98 64.20L1247.34 64.23L1248.70 64.27L1250.06 64.31L1251.41 64.35L1252.77 64.40L1254.13 64.44L1255.49 64.49L1256.85 64.55L1258.21 64.60L1259.57 64.66L1260.93 64.72L1262.29 64.79L1263.65 64.86L1265.01 64.93L1266.37 65.01L1267.73 65.09L1269.09 65.18L1270.45 65.27L1271.81 65.37L1273.17 65.47L1274.53 65.58L1275.89 65.70L1277.25 65.82L1278.61 65.95L1279.97 66.09L1281.33 66.24L1282.69 66.39L1284.05 66.55L1285.41 66.72L1286.77 66.90L1288.13 67.09L1289.49 67.30L1290.85 67.51L1292.21 67.74L1293.57 67.97L1294.93 68.23L1296.29 68.49L1297.65 68.77L1299.01 69.07L1300.37 69.38L1301.73 69.71L1303.09 70.06L1304.45 70.42L1305.81 70.81L1307.17 71.22L1308.53 71.65L1309.89 72.10L1311.25 72.57L1312.61 73.07L1313.97 73.60L1315.33 74.15L1316.69 74.73L1318.05 75.34L1319.41 75.99L1320.77 76.66L1322.12 77.37L1323.48 78.11L1324.84 78.89L1326.20 79.70L1327.56 80.55L1328.92 81.45L1330.28 82.38L1331.64 83.35L1333.00 84.37L1334.36 85.43L1335.72 86.54L1337.08 87.70L1338.44 88.90L1339.80 90.15L1341.16 91.45L1342.52 92.79L1343.88 94.19L1345.24 95.64L1346.60 97.14L1347.96 98.69L1349.32 100.29L1350.68 101.94L1352.04 103.65L1353.40 105.40L1354.76 107.20L1356.12 109.05L1357.48 110.94L1358.84 112.88L1360.20 114.86L1361.56 116.88L1362.92 118.95L1364.28 121.05L1365.64 123.18L1367.00 125.34L1368.36 127.54L1369.72 129.76L1371.08 132.00L1372.44 134.25L1373.80 136.53L1375.16 138.81L1376.52 141.10L1377.88 143.40L1379.24 145.70L1380.60 147.99L1381.96 150.27L1383.32 152.55L1384.68 154.81L1386.04 157.05L1387.40 159.27L1388.76 161.46L1390.12 163.62L1391.47 165.76L1392.83 167.86L1394.19 169.92L1395.55 171.94L1396.91 173.92L1398.27 175.86L1399.63 177.76L1400.99 179.61L1402.35 181.41L1403.71 183.16L1405.07 184.86L1406.43 186.51L1407.79 188.11L1409.15 189.66L1410.51 191.16L1411.87 192.61L1413.23 194.01L1414.59 195.36L1415.95 196.66L1417.31 197.91L1418.67 199.11L1420.03 200.27L1421.39 201.38L1422.75 202.44L1424.11 203.46L1425.47 204.43L1426.83 205.37L1428.19 206.26L1429.55 207.11L1430.91 207.93L1432.27 208.71L1433.63 209.45L1434.99 210.16L1436.35 210.83L1437.71 211.47L1439.07 212.09L1440.43 212.67L1441.79 213.22L1443.15 213.75L1444.51 214.25L1445.87 214.73L1447.23 215.18L1448.59 215.61L1449.95 216.02L1451.31 216.41L1452.67 216.78L1454.03 217.13L1455.39 217.46L1456.75 217.77L1458.11 218.07L1459.47 218.36L1460.83 218.62L1462.18 218.88L1463.54 219.12L1464.90 219.35L1466.26 219.57L1467.62 219.77L1468.98 219.97L1470.34 220.15L1471.70 220.33L1473.06 220.50L1474.42 220.66L1475.78 220.81L1477.14 220.95L1478.50 221.08L1479.86 221.21L1481.22 221.34L1482.58 221.45L1483.94 221.56L1485.30 221.67L1486.66 221.77L1488.02 221.87L1489.38 221.96L1490.74 222.05L1492.10 222.13L1493.46 222.22L1494.82 222.29L1496.18 222.37L1497.54 222.44L1498.90 222.51L1500.26 222.58L1501.62 222.64L1502.98 222.71L1504.34 222.77L1505.70 222.83L1507.06 222.89L1508.42 222.95L1509.78 223.01L1511.14 223.06L1512.50 223.12L1513.86 223.18L1515.22 223.23L1516.58 223.29L1517.94 223.35L1519.30 223.40L1520.66 223.46L1522.02 223.52L1523.38 223.58L1524.74 223.64L1526.10 223.71L1527.46 223.77L1528.82 223.84L1530.18 223.90L1531.54 223.97L1532.89 224.05L1534.25 224.12L1535.61 224.20L1536.97 224.28L1538.33 224.37L1539.69 224.46L1541.05 224.55L1542.41 224.65L1543.77 224.75L1545.13 224.86L1546.49 224.97L1547.85 225.09L1549.21 225.21L1550.57 225.34L1551.93 225.48L1553.29 225.62L1554.65 225.78L1556.01 225.94L1557.37 226.11L1558.73 226.28L1560.09 226.47L1561.45 226.67L1562.81 226.88L1564.17 227.10L1565.53 227.33L1566.89 227.57L1568.25 227.83L1569.61 228.10L1570.97 228.39L1572.33 228.69L1573.69 229.01L1575.05 229.34L1576.41 229.70L1577.77 230.07L1579.13 230.46L1580.49 230.88L1581.85 231.31L1583.21 231.77L1584.57 232.25L1585.93 232.76L1587.29 233.29L1588.65 233.85L1590.01 234.44L1591.37 235.06L1592.73 235.71L1594.09 236.40L1595.45 237.11L1596.81 237.86L1598.17 238.65L1599.53 239.48L1600.89 240.34L1602.25 241.24L1603.61 242.19L1604.96 243.18L1606.32 244.21L1607.68 245.28L1609.04 246.41L1610.40 247.57L1611.76 248.79L1613.12 250.06L1614.48 251.37L1615.84 252.74L1617.20 254.16L1618.56 255.62L1619.92 257.14L1621.28 258.71L1622.64 260.34L1624.00 262.01L1625.36 263.74L1626.72 265.51L1628.08 267.34L1629.44 269.21L1630.80 271.14L1632.16 273.10L1633.52 275.12L1634.88 277.17L1636.24 279.27L1637.60 281.40L1638.96 283.57L1640.32 285.78L1641.68 288.01L1643.04 290.27L1644.40 292.55L1645.76 294.86L1647.12 297.18L1648.48 299.52L1649.84 301.86L1651.20 304.21L1652.56 306.57L1653.92 308.92L1655.28 311.27L1656.64 313.62L1658.00 315.95L1659.36 318.27L1660.72 320.56L1662.08 322.84L1663.44 325.10L1664.80 327.33L1666.16 329.53L1667.52 331.70L1668.88 333.83L1670.24 335.94L1671.60 338.00L1672.96 340.03L1674.32 342.02L1675.67 343.97L1677.03 345.88L1678.39 347.75L1679.75 349.58L1681.11 351.37L1682.47 353.12L1683.83 354.83L1685.19 356.50L1686.55 358.13L1687.91 359.73L1689.27 361.29L1690.63 362.82L1691.99 364.31L1693.35 365.78L1694.71 367.21L1696.07 368.62L1697.43 370.00L1698.79 371.36L1700.15 372.70L1701.51 374.02L1702.87 375.32L1704.23 376.61L1705.59 377.89L1706.95 379.16L1708.31 380.42L1709.67 381.67L1711.03 382.93L1712.39 384.18L1713.75 385.44L1715.11 386.70L1716.47 387.97L1717.83 389.25L1719.19 390.54L1720.55 391.84L1721.91 393.17L1723.27 394.51L1724.63 395.87L1725.99 397.26L1727.35 398.67L1728.71 400.11L1730.07 401.58L1731.43 403.09L1732.79 404.62L1734.15 406.19L1735.51 407.79L1736.87 409.43L1738.23 411.11L1739.59 412.83L1740.95 414.59L1742.31 416.38L1743.67 418.22L1745.03 420.10L1746.38 422.02L1747.74 423.98L1749.10 425.97L1750.46 428.01L1751.82 430.08L1753.18 432.19L1754.54 434.33L1755.90 436.51L1757.26 438.72L1758.62 440.95L1759.98 443.21L1761.34 445.49L1762.70 447.80L1764.06 450.12L1765.42 452.45L1766.78 454.79L1768.14 457.15L1769.50 459.50L1770.86 461.86L1772.22 464.21L1773.58 466.55L1774.94 468.88L1776.30 471.20L1777.66 473.50L1779.02 475.78L1780.38 478.04L1781.74 480.27L1783.10 482.46L1784.46 484.62L1785.82 486.75L1787.18 488.84L1788.54 490.89L1789.90 492.89L1791.26 494.85L1792.62 496.76L1793.98 498.63L1795.34 500.44L1796.70 502.21L1798.06 503.92L1799.42 505.59L1800.78 507.20L1802.14 508.76L1803.50 510.27L1804.86 511.73L1806.22 513.13L1807.58 514.49L1808.94 515.79L1810.30 517.05L1811.66 518.25L1813.02 519.41L1814.38 520.53L1815.74 521.59L1817.09 522.61L1818.45 523.59L1819.81 524.53L1821.17 525.42L1822.53 526.28L1823.89 527.09L1825.25 527.87L1826.61 528.62L1827.97 529.33L1829.33 530.00L1830.69 530.64L1832.05 531.26L1833.41 531.84L1834.77 532.39L1836.13 532.92L1837.49 533.42L1838.85 533.90L1840.21 534.35L1841.57 534.78L1842.93 535.19L1844.29 535.57L1845.65 535.94L1847.01 536.29L1848.37 536.62L1849.73 536.93L1851.09 537.23L1852.45 537.51L1853.81 537.77L1855.17 538.02L1856.53 538.26L1857.89 538.49L1859.25 538.70L1860.61 538.90L1861.97 539.10L1863.33 539.28L1864.69 539.45L1866.05 539.61L1867.41 539.76L1868.77 539.91L1870.13 540.05L1871.49 540.18L1872.85 540.30L1874.21 540.42L1875.57 540.53L1876.93 540.63L1878.29 540.73L1879.65 540.82L1881.01 540.91L1882.37 540.99L1883.73 541.07L1885.09 541.14L1886.45 541.21L1887.80 541.28L1889.16 541.34L1890.52 541.40L1891.88 541.45L1893.24 541.51L1894.60 541.56L1895.96 541.60L1897.32 541.65L1898.68 541.69L1900.04 541.73L1901.40 541.77L1902.76 541.80L1904.12 541.84L1905.48 541.87L1906.84 541.90L1908.20 541.92L1909.56 541.95L1910.92 541.98L1912.28 542.00L1913.64 542.02L1915.00 542.04L1916.36 542.06L1917.72 542.08L1919.08 542.10L1920.44 542.12L1921.80 542.13" stroke="#000" stroke-width="4.7" stroke-dasharray="0 8.8" stroke-linecap="round" fill="none"/>
<path d="M1214.70 64.08L1216.06 64.11L1217.42 64.14L1218.78 64.17L1220.14 64.20L1221.50 64.24L1222.86 64.28L1224.22 64.32L1225.58 64.36L1226.94 64.40L1228.30 64.45L1229.66 64.50L1231.02 64.55L1232.38 64.61L1233.74 64.67L1235.10 64.73L1236.46 64.80L1237.82 64.87L1239.18 64.95L1240.54 65.03L1241.90 65.11L1243.26 65.20L1244.62 65.29L1245.98 65.39L1247.34 65.50L1248.70 65.61L1250.06 65.73L1251.41 65.85L1252.77 65.99L1254.13 66.13L1255.49 66.28L1256.85 66.44L1258.21 66.60L1259.57 66.78L1260.93 66.97L1262.29 67.16L1263.65 67.37L1265.01 67.59L1266.37 67.83L1267.73 68.08L1269.09 68.34L1270.45 68.62L1271.81 68.91L1273.17 69.22L1274.53 69.55L1275.89 69.90L1277.25 70.27L1278.61 70.66L1279.97 71.07L1281.33 71.51L1282.69 71.97L1284.05 72.45L1285.41 72.97L1286.77 73.51L1288.13 74.08L1289.49 74.69L1290.85 75.33L1292.21 76.01L1293.57 76.72L1294.93 77.48L1296.29 78.28L1297.65 79.12L1299.01 80.01L1300.37 80.94L1301.73 81.93L1303.09 82.97L1304.45 84.07L1305.81 85.23L1307.17 86.45L1308.53 87.74L1309.89 89.09L1311.25 90.52L1312.61 92.02L1313.97 93.60L1315.33 95.26L1316.69 97.00L1318.05 98.83L1319.41 100.76L1320.77 102.78L1322.12 104.90L1323.48 107.13L1324.84 109.46L1326.20 111.90L1327.56 114.46L1328.92 117.14L1330.28 119.94L1331.64 122.86L1333.00 125.92L1334.36 129.10L1335.72 132.43L1337.08 135.89L1338.44 139.49L1339.80 143.24L1341.16 147.14L1342.52 151.18L1343.88 155.38L1345.24 159.72L1346.60 164.22L1347.96 168.87L1349.32 173.68L1350.68 178.63L1352.04 183.74L1353.40 188.99L1354.76 194.39L1356.12 199.94L1357.48 205.62L1358.84 211.44L1360.20 217.38L1361.56 223.45L1362.92 229.64L1364.28 235.94L1365.64 242.34L1367.00 248.83L1368.36 255.41L1369.72 262.06L1371.08 268.78L1372.44 275.56L1373.80 282.38L1375.16 289.24L1376.52 296.11L1377.88 303.00L1379.24 309.89L1380.60 316.77L1381.96 323.62L1383.32 330.44L1384.68 337.22L1386.04 343.94L1387.40 350.59L1388.76 357.17L1390.12 363.67L1391.47 370.06L1392.83 376.36L1394.19 382.55L1395.55 388.62L1396.91 394.57L1398.27 400.38L1399.63 406.07L1400.99 411.61L1402.35 417.01L1403.71 422.26L1405.07 427.37L1406.43 432.33L1407.79 437.13L1409.15 441.78L1410.51 446.28L1411.87 450.63L1413.23 454.82L1414.59 458.86L1415.95 462.76L1417.31 466.51L1418.67 470.11L1420.03 473.58L1421.39 476.90L1422.75 480.09L1424.11 483.14L1425.47 486.07L1426.83 488.87L1428.19 491.54L1429.55 494.10L1430.91 496.54L1432.27 498.88L1433.63 501.10L1434.99 503.22L1436.35 505.24L1437.71 507.17L1439.07 509.00L1440.43 510.75L1441.79 512.41L1443.15 513.99L1444.51 515.49L1445.87 516.91L1447.23 518.27L1448.59 519.55L1449.95 520.77L1451.31 521.93L1452.67 523.03L1454.03 524.07L1455.39 525.06L1456.75 526.00L1458.11 526.89L1459.47 527.73L1460.83 528.52L1462.18 529.28L1463.54 529.99L1464.90 530.67L1466.26 531.31L1467.62 531.92L1468.98 532.49L1470.34 533.04L1471.70 533.55L1473.06 534.04L1474.42 534.50L1475.78 534.93L1477.14 535.35L1478.50 535.74L1479.86 536.10L1481.22 536.45L1482.58 536.78L1483.94 537.09L1485.30 537.39L1486.66 537.66L1488.02 537.93L1489.38 538.17L1490.74 538.41L1492.10 538.63L1493.46 538.84L1494.82 539.04L1496.18 539.23L1497.54 539.40L1498.90 539.57L1500.26 539.73L1501.62 539.88L1502.98 540.02L1504.34 540.15L1505.70 540.28L1507.06 540.39L1508.42 540.51L1509.78 540.61L1511.14 540.71L1512.50 540.81L1513.86 540.90L1515.22 540.98L1516.58 541.06L1517.94 541.13L1519.30 541.20L1520.66 541.27L1522.02 541.34L1523.38 541.39L1524.74 541.45L1526.10 541.50L1527.46 541.55L1528.82 541.60L1530.18 541.65L1531.54 541.69L1532.89 541.73L1534.25 541.77L1535.61 541.80L1536.97 541.84L1538.33 541.87L1539.69 541.90L1541.05 541.93L1542.41 541.95L1543.77 541.98L1545.13 542.00L1546.49 542.02L1547.85 542.05L1549.21 542.07L1550.57 542.08L1551.93 542.10L1553.29 542.12L1554.65 542.14L1556.01 542.15L1557.37 542.16L1558.73 542.18L1560.09 542.19L1561.45 542.20L1562.81 542.21L1564.17 542.22L1565.53 542.23L1566.89 542.24L1568.25 542.25L1569.61 542.26L1570.97 542.27L1572.33 542.28L1573.69 542.28L1575.05 542.29L1576.41 542.30L1577.77 542.30L1579.13 542.31L1580.49 542.31L1581.85 542.32L1583.21 542.32L1584.57 542.33L1585.93 542.33L1587.29 542.34L1588.65 542.34L1590.01 542.34L1591.37 542.35L1592.73 542.35L1594.09 542.35L1595.45 542.36L1596.81 542.36L1598.17 542.36L1599.53 542.36L1600.89 542.37L1602.25 542.37L1603.61 542.37L1604.96 542.37L1606.32 542.37L1607.68 542.38L1609.04 542.38L1610.40 542.38L1611.76 542.38L1613.12 542.38L1614.48 542.38L1615.84 542.38L1617.20 542.38L1618.56 542.39L1619.92 542.39L1621.28 542.39L1622.64 542.39L1624.00 542.39L1625.36 542.39L1626.72 542.39L1628.08 542.39L1629.44 542.39L1630.80 542.39L1632.16 542.39L1633.52 542.39L1634.88 542.39L1636.24 542.39L1637.60 542.39L1638.96 542.40L1640.32 542.40L1641.68 542.40L1643.04 542.40L1644.40 542.40L1645.76 542.40L1647.12 542.40L1648.48 542.40L1649.84 542.40L1651.20 542.40L1652.56 542.40L1653.92 542.40L1655.28 542.40L1656.64 542.40L1658.00 542.40L1659.36 542.40L1660.72 542.40L1662.08 542.40L1663.44 542.40L1664.80 542.40L1666.16 542.40L1667.52 542.40L1668.88 542.40L1670.24 542.40L1671.60 542.40L1672.96 542.40L1674.32 542.40L1675.67 542.40L1677.03 542.40L1678.39 542.40L1679.75 542.40L1681.11 542.40L1682.47 542.40L1683.83 542.40L1685.19 542.40L1686.55 542.40L1687.91 542.40L1689.27 542.40L1690.63 542.40L1691.99 542.40L1693.35 542.40L1694.71 542.40L1696.07 542.40L1697.43 542.40L1698.79 542.40L1700.15 542.40L1701.51 542.40L1702.87 542.40L1704.23 542.40L1705.59 542.40L1706.95 542.40L1708.31 542.40L1709.67 542.40L1711.03 542.40L1712.39 542.40L1713.75 542.40L1715.11 542.40L1716.47 542.40L1717.83 542.40L1719.19 542.40L1720.55 542.40L1721.91 542.40L1723.27 542.40L1724.63 542.40L1725.99 542.40L1727.35 542.40L1728.71 542.40L1730.07 542.40L1731.43 542.40L1732.79 542.40L1734.15 542.40L1735.51 542.40L1736.87 542.40L1738.23 542.40L1739.59 542.40L1740.95 542.40L1742.31 542.40L1743.67 542.40L1745.03 542.40L1746.38 542.40L1747.74 542.40L1749.10 542.40L1750.46 542.40L1751.82 542.40L1753.18 542.40L1754.54 542.40L1755.90 542.40L1757.26 542.40L1758.62 542.40L1759.98 542.40L1761.34 542.40L1762.70 542.40L1764.06 542.40L1765.42 542.40L1766.78 542.40L1768.14 542.40L1769.50 542.40L1770.86 542.40L1772.22 542.40L1773.58 542.40L1774.94 542.40L1776.30 542.40L1777.66 542.40L1779.02 542.40L1780.38 542.40L1781.74 542.40L1783.10 542.40L1784.46 542.40L1785.82 542.40L1787.18 542.40L1788.54 542.40L1789.90 542.40L1791.26 542.40L1792.62 542.40L1793.98 542.40L1795.34 542.40L1796.70 542.40L1798.06 542.40L1799.42 542.40L1800.78 542.40L1802.14 542.40L1803.50 542.40L1804.86 542.40L1806.22 542.40L1807.58 542.40L1808.94 542.40L1810.30 542.40L1811.66 542.40L1813.02 542.40L1814.38 542.40L1815.74 542.40L1817.09 542.40L1818.45 542.40L1819.81 542.40L1821.17 542.40L1822.53 542.40L1823.89 542.40L1825.25 542.40L1826.61 542.40L1827.97 542.40L1829.33 542.40L1830.69 542.40L1832.05 542.40L1833.41 542.40L1834.77 542.40L1836.13 542.40L1837.49 542.40L1838.85 542.40L1840.21 542.40L1841.57 542.40L1842.93 542.40L1844.29 542.40L1845.65 542.40L1847.01 542.40L1848.37 542.40L1849.73 542.40L1851.09 542.40L1852.45 542.40L1853.81 542.40L1855.17 542.40L1856.53 542.40L1857.89 542.40L1859.25 542.40L1860.61 542.40L1861.97 542.40L1863.33 542.40L1864.69 542.40L1866.05 542.40L1867.41 542.40L1868.77 542.40L1870.13 542.40L1871.49 542.40L1872.85 542.40L1874.21 542.40L1875.57 542.40L1876.93 542.40L1878.29 542.40L1879.65 542.40L1881.01 542.40L1882.37 542.40L1883.73 542.40L1885.09 542.40L1886.45 542.40L1887.80 542.40L1889.16 542.40L1890.52 542.40L1891.88 542.40L1893.24 542.40L1894.60 542.40L1895.96 542.40L1897.32 542.40L1898.68 542.40L1900.04 542.40L1901.40 542.40L1902.76 542.40L1904.12 542.40L1905.48 542.40L1906.84 542.40L1908.20 542.40L1909.56 542.40L1910.92 542.40L1912.28 542.40L1913.64 542.40L1915.00 542.40L1916.36 542.40L1917.72 542.40L1919.08 542.40L1920.44 542.40L1921.80 542.40" stroke="#5b9bd5" stroke-width="4.6" stroke-linecap="round" stroke-linejoin="round" fill="none"/>
<path d="M1214.70 541.92L1216.06 541.89L1217.42 541.86L1218.78 541.83L1220.14 541.80L1221.50 541.76L1222.86 541.72L1224.22 541.68L1225.58 541.64L1226.94 541.60L1228.30 541.55L1229.66 541.50L1231.02 541.45L1232.38 541.39L1233.74 541.33L1235.10 541.27L1236.46 541.20L1237.82 541.13L1239.18 541.05L1240.54 540.97L1241.90 540.89L1243.26 540.80L1244.62 540.71L1245.98 540.61L1247.34 540.50L1248.70 540.39L1250.06 540.27L1251.41 540.15L1252.77 540.01L1254.13 539.87L1255.49 539.72L1256.85 539.56L1258.21 539.40L1259.57 539.22L1260.93 539.03L1262.29 538.84L1263.65 538.63L1265.01 538.41L1266.37 538.17L1267.73 537.92L1269.09 537.66L1270.45 537.38L1271.81 537.09L1273.17 536.78L1274.53 536.45L1275.89 536.10L1277.25 535.73L1278.61 535.34L1279.97 534.93L1281.33 534.49L1282.69 534.03L1284.05 533.55L1285.41 533.03L1286.77 532.49L1288.13 531.92L1289.49 531.31L1290.85 530.67L1292.21 529.99L1293.57 529.28L1294.93 528.52L1296.29 527.72L1297.65 526.88L1299.01 525.99L1300.37 525.06L1301.73 524.07L1303.09 523.03L1304.45 521.93L1305.81 520.77L1307.17 519.55L1308.53 518.26L1309.89 516.91L1311.25 515.48L1312.61 513.98L1313.97 512.40L1315.33 510.74L1316.69 509.00L1318.05 507.17L1319.41 505.24L1320.77 503.22L1322.12 501.10L1323.48 498.87L1324.84 496.54L1326.20 494.10L1327.56 491.54L1328.92 488.86L1330.28 486.06L1331.64 483.14L1333.00 480.08L1334.36 476.90L1335.72 473.57L1337.08 470.11L1338.44 466.51L1339.80 462.76L1341.16 458.86L1342.52 454.82L1343.88 450.62L1345.24 446.28L1346.60 441.78L1347.96 437.13L1349.32 432.32L1350.68 427.37L1352.04 422.26L1353.40 417.01L1354.76 411.61L1356.12 406.06L1357.48 400.38L1358.84 394.56L1360.20 388.62L1361.56 382.55L1362.92 376.36L1364.28 370.06L1365.64 363.66L1367.00 357.17L1368.36 350.59L1369.72 343.94L1371.08 337.22L1372.44 330.44L1373.80 323.62L1375.16 316.77L1376.52 309.89L1377.88 303.00L1379.24 296.11L1380.60 289.24L1381.96 282.38L1383.32 275.56L1384.68 268.79L1386.04 262.07L1387.40 255.41L1388.76 248.83L1390.12 242.34L1391.47 235.94L1392.83 229.64L1394.19 223.46L1395.55 217.39L1396.91 211.44L1398.27 205.62L1399.63 199.94L1400.99 194.40L1402.35 189.00L1403.71 183.75L1405.07 178.64L1406.43 173.69L1407.79 168.88L1409.15 164.23L1410.51 159.74L1411.87 155.39L1413.23 151.20L1414.59 147.15L1415.95 143.26L1417.31 139.51L1418.67 135.91L1420.03 132.45L1421.39 129.12L1422.75 125.94L1424.11 122.89L1425.47 119.96L1426.83 117.17L1428.19 114.49L1429.55 111.94L1430.91 109.49L1432.27 107.17L1433.63 104.94L1434.99 102.82L1436.35 100.81L1437.71 98.88L1439.07 97.05L1440.43 95.31L1441.79 93.66L1443.15 92.08L1444.51 90.59L1445.87 89.16L1447.23 87.81L1448.59 86.53L1449.95 85.32L1451.31 84.17L1452.67 83.07L1454.03 82.04L1455.39 81.06L1456.75 80.13L1458.11 79.25L1459.47 78.41L1460.83 77.62L1462.18 76.88L1463.54 76.17L1464.90 75.51L1466.26 74.88L1467.62 74.28L1468.98 73.72L1470.34 73.19L1471.70 72.69L1473.06 72.21L1474.42 71.77L1475.78 71.35L1477.14 70.95L1478.50 70.58L1479.86 70.23L1481.22 69.91L1482.58 69.60L1483.94 69.31L1485.30 69.04L1486.66 68.79L1488.02 68.55L1489.38 68.33L1490.74 68.13L1492.10 67.94L1493.46 67.76L1494.82 67.60L1496.18 67.45L1497.54 67.32L1498.90 67.19L1500.26 67.08L1501.62 66.98L1502.98 66.89L1504.34 66.81L1505.70 66.74L1507.06 66.68L1508.42 66.64L1509.78 66.60L1511.14 66.57L1512.50 66.55L1513.86 66.54L1515.22 66.54L1516.58 66.55L1517.94 66.57L1519.30 66.60L1520.66 66.64L1522.02 66.69L1523.38 66.75L1524.74 66.83L1526.10 66.91L1527.46 67.00L1528.82 67.10L1530.18 67.22L1531.54 67.34L1532.89 67.48L1534.25 67.63L1535.61 67.80L1536.97 67.98L1538.33 68.17L1539.69 68.38L1541.05 68.60L1542.41 68.84L1543.77 69.09L1545.13 69.37L1546.49 69.66L1547.85 69.97L1549.21 70.30L1550.57 70.66L1551.93 71.03L1553.29 71.43L1554.65 71.86L1556.01 72.31L1557.37 72.78L1558.73 73.29L1560.09 73.83L1561.45 74.40L1562.81 75.00L1564.17 75.64L1565.53 76.31L1566.89 77.03L1568.25 77.78L1569.61 78.58L1570.97 79.42L1572.33 80.31L1573.69 81.25L1575.05 82.25L1576.41 83.29L1577.77 84.40L1579.13 85.56L1580.49 86.79L1581.85 88.09L1583.21 89.45L1584.57 90.89L1585.93 92.40L1587.29 93.99L1588.65 95.67L1590.01 97.43L1591.37 99.28L1592.73 101.22L1594.09 103.26L1595.45 105.40L1596.81 107.65L1598.17 110.00L1599.53 112.47L1600.89 115.05L1602.25 117.75L1603.61 120.58L1604.96 123.53L1606.32 126.62L1607.68 129.84L1609.04 133.19L1610.40 136.69L1611.76 140.33L1613.12 144.11L1614.48 148.04L1615.84 152.12L1617.20 156.36L1618.56 160.75L1619.92 165.29L1621.28 169.98L1622.64 174.83L1624.00 179.83L1625.36 184.98L1626.72 190.28L1628.08 195.72L1629.44 201.31L1630.80 207.04L1632.16 212.91L1633.52 218.90L1634.88 225.02L1636.24 231.26L1637.60 237.60L1638.96 244.05L1640.32 250.59L1641.68 257.22L1643.04 263.92L1644.40 270.69L1645.76 277.51L1647.12 284.38L1648.48 291.28L1649.84 298.20L1651.20 305.13L1652.56 312.06L1653.92 318.98L1655.28 325.87L1656.64 332.73L1658.00 339.55L1659.36 346.30L1660.72 352.99L1662.08 359.60L1663.44 366.13L1664.80 372.56L1666.16 378.88L1667.52 385.10L1668.88 391.19L1670.24 397.16L1671.60 403.00L1672.96 408.70L1674.32 414.27L1675.67 419.68L1677.03 424.96L1678.39 430.08L1679.75 435.05L1681.11 439.86L1682.47 444.53L1683.83 449.04L1685.19 453.39L1686.55 457.60L1687.91 461.65L1689.27 465.55L1690.63 469.30L1691.99 472.91L1693.35 476.38L1694.71 479.70L1696.07 482.89L1697.43 485.95L1698.79 488.87L1700.15 491.67L1701.51 494.34L1702.87 496.90L1704.23 499.34L1705.59 501.67L1706.95 503.88L1708.31 506.00L1709.67 508.01L1711.03 509.93L1712.39 511.76L1713.75 513.49L1715.11 515.14L1716.47 516.71L1717.83 518.20L1719.19 519.61L1720.55 520.95L1721.91 522.22L1723.27 523.42L1724.63 524.56L1725.99 525.65L1727.35 526.67L1728.71 527.64L1730.07 528.55L1731.43 529.42L1732.79 530.24L1734.15 531.01L1735.51 531.74L1736.87 532.43L1738.23 533.08L1739.59 533.70L1740.95 534.27L1742.31 534.82L1743.67 535.33L1745.03 535.81L1746.38 536.27L1747.74 536.69L1749.10 537.09L1750.46 537.47L1751.82 537.82L1753.18 538.15L1754.54 538.46L1755.90 538.75L1757.26 539.02L1758.62 539.28L1759.98 539.52L1761.34 539.74L1762.70 539.94L1764.06 540.13L1765.42 540.31L1766.78 540.48L1768.14 540.63L1769.50 540.78L1770.86 540.91L1772.22 541.03L1773.58 541.15L1774.94 541.25L1776.30 541.35L1777.66 541.44L1779.02 541.53L1780.38 541.60L1781.74 541.67L1783.10 541.74L1784.46 541.80L1785.82 541.85L1787.18 541.90L1788.54 541.95L1789.90 541.99L1791.26 542.03L1792.62 542.06L1793.98 542.09L1795.34 542.12L1796.70 542.15L1798.06 542.17L1799.42 542.20L1800.78 542.22L1802.14 542.23L1803.50 542.25L1804.86 542.26L1806.22 542.28L1807.58 542.29L1808.94 542.30L1810.30 542.31L1811.66 542.32L1813.02 542.33L1814.38 542.34L1815.74 542.34L1817.09 542.35L1818.45 542.35L1819.81 542.36L1821.17 542.36L1822.53 542.37L1823.89 542.37L1825.25 542.37L1826.61 542.38L1827.97 542.38L1829.33 542.38L1830.69 542.38L1832.05 542.38L1833.41 542.39L1834.77 542.39L1836.13 542.39L1837.49 542.39L1838.85 542.39L1840.21 542.39L1841.57 542.39L1842.93 542.39L1844.29 542.39L1845.65 542.39L1847.01 542.40L1848.37 542.40L1849.73 542.40L1851.09 542.40L1852.45 542.40L1853.81 542.40L1855.17 542.40L1856.53 542.40L1857.89 542.40L1859.25 542.40L1860.61 542.40L1861.97 542.40L1863.33 542.40L1864.69 542.40L1866.05 542.40L1867.41 542.40L1868.77 542.40L1870.13 542.40L1871.49 542.40L1872.85 542.40L1874.21 542.40L1875.57 542.40L1876.93 542.40L1878.29 542.40L1879.65 542.40L1881.01 542.40L1882.37 542.40L1883.73 542.40L1885.09 542.40L1886.45 542.40L1887.80 542.40L1889.16 542.40L1890.52 542.40L1891.88 542.40L1893.24 542.40L1894.60 542.40L1895.96 542.40L1897.32 542.40L1898.68 542.40L1900.04 542.40L1901.40 542.40L1902.76 542.40L1904.12 542.40L1905.48 542.40L1906.84 542.40L1908.20 542.40L1909.56 542.40L1910.92 542.40L1912.28 542.40L1913.64 542.40L1915.00 542.40L1916.36 542.40L1917.72 542.40L1919.08 542.40L1920.44 542.40L1921.80 542.40" stroke="#a5a5a5" stroke-width="4.4" stroke-linecap="round" stroke-linejoin="round" fill="none"/>
<path d="M1214.70 542.40L1216.06 542.40L1217.42 542.40L1218.78 542.40L1220.14 542.40L1221.50 542.40L1222.86 542.40L1224.22 542.40L1225.58 542.40L1226.94 542.40L1228.30 542.40L1229.66 542.40L1231.02 542.40L1232.38 542.40L1233.74 542.40L1235.10 542.40L1236.46 542.40L1237.82 542.40L1239.18 542.40L1240.54 542.40L1241.90 542.40L1243.26 542.40L1244.62 542.40L1245.98 542.40L1247.34 542.40L1248.70 542.40L1250.06 542.40L1251.41 542.40L1252.77 542.40L1254.13 542.40L1255.49 542.40L1256.85 542.40L1258.21 542.40L1259.57 542.40L1260.93 542.40L1262.29 542.40L1263.65 542.40L1265.01 542.40L1266.37 542.40L1267.73 542.40L1269.09 542.40L1270.45 542.40L1271.81 542.40L1273.17 542.40L1274.53 542.40L1275.89 542.40L1277.25 542.40L1278.61 542.40L1279.97 542.40L1281.33 542.40L1282.69 542.40L1284.05 542.40L1285.41 542.40L1286.77 542.40L1288.13 542.40L1289.49 542.40L1290.85 542.40L1292.21 542.40L1293.57 542.40L1294.93 542.40L1296.29 542.40L1297.65 542.40L1299.01 542.40L1300.37 542.40L1301.73 542.40L1303.09 542.40L1304.45 542.40L1305.81 542.40L1307.17 542.40L1308.53 542.40L1309.89 542.40L1311.25 542.40L1312.61 542.40L1313.97 542.40L1315.33 542.40L1316.69 542.40L1318.05 542.40L1319.41 542.40L1320.77 542.40L1322.12 542.40L1323.48 542.40L1324.84 542.40L1326.20 542.40L1327.56 542.40L1328.92 542.40L1330.28 542.40L1331.64 542.40L1333.00 542.40L1334.36 542.40L1335.72 542.40L1337.08 542.40L1338.44 542.40L1339.80 542.40L1341.16 542.40L1342.52 542.40L1343.88 542.40L1345.24 542.40L1346.60 542.40L1347.96 542.40L1349.32 542.40L1350.68 542.40L1352.04 542.40L1353.40 542.40L1354.76 542.40L1356.12 542.40L1357.48 542.40L1358.84 542.40L1360.20 542.40L1361.56 542.40L1362.92 542.40L1364.28 542.40L1365.64 542.40L1367.00 542.40L1368.36 542.40L1369.72 542.40L1371.08 542.40L1372.44 542.40L1373.80 542.40L1375.16 542.40L1376.52 542.40L1377.88 542.40L1379.24 542.40L1380.60 542.40L1381.96 542.40L1383.32 542.40L1384.68 542.40L1386.04 542.40L1387.40 542.40L1388.76 542.40L1390.12 542.40L1391.47 542.39L1392.83 542.39L1394.19 542.39L1395.55 542.39L1396.91 542.39L1398.27 542.39L1399.63 542.39L1400.99 542.39L1402.35 542.39L1403.71 542.39L1405.07 542.39L1406.43 542.39L1407.79 542.39L1409.15 542.39L1410.51 542.39L1411.87 542.38L1413.23 542.38L1414.59 542.38L1415.95 542.38L1417.31 542.38L1418.67 542.38L1420.03 542.38L1421.39 542.38L1422.75 542.37L1424.11 542.37L1425.47 542.37L1426.83 542.37L1428.19 542.37L1429.55 542.36L1430.91 542.36L1432.27 542.36L1433.63 542.36L1434.99 542.35L1436.35 542.35L1437.71 542.35L1439.07 542.34L1440.43 542.34L1441.79 542.34L1443.15 542.33L1444.51 542.33L1445.87 542.32L1447.23 542.32L1448.59 542.31L1449.95 542.31L1451.31 542.30L1452.67 542.30L1454.03 542.29L1455.39 542.28L1456.75 542.28L1458.11 542.27L1459.47 542.26L1460.83 542.25L1462.18 542.24L1463.54 542.23L1464.90 542.22L1466.26 542.21L1467.62 542.20L1468.98 542.19L1470.34 542.18L1471.70 542.16L1473.06 542.15L1474.42 542.13L1475.78 542.12L1477.14 542.10L1478.50 542.08L1479.86 542.06L1481.22 542.04L1482.58 542.02L1483.94 542.00L1485.30 541.97L1486.66 541.95L1488.02 541.92L1489.38 541.89L1490.74 541.86L1492.10 541.83L1493.46 541.80L1494.82 541.76L1496.18 541.72L1497.54 541.68L1498.90 541.64L1500.26 541.59L1501.62 541.54L1502.98 541.49L1504.34 541.44L1505.70 541.38L1507.06 541.32L1508.42 541.26L1509.78 541.19L1511.14 541.12L1512.50 541.04L1513.86 540.96L1515.22 540.88L1516.58 540.79L1517.94 540.69L1519.30 540.59L1520.66 540.48L1522.02 540.37L1523.38 540.25L1524.74 540.12L1526.10 539.99L1527.46 539.85L1528.82 539.70L1530.18 539.54L1531.54 539.37L1532.89 539.19L1534.25 539.00L1535.61 538.80L1536.97 538.59L1538.33 538.36L1539.69 538.13L1541.05 537.88L1542.41 537.61L1543.77 537.33L1545.13 537.03L1546.49 536.72L1547.85 536.38L1549.21 536.03L1550.57 535.66L1551.93 535.27L1553.29 534.85L1554.65 534.41L1556.01 533.94L1557.37 533.45L1558.73 532.93L1560.09 532.38L1561.45 531.80L1562.81 531.19L1564.17 530.54L1565.53 529.86L1566.89 529.13L1568.25 528.37L1569.61 527.56L1570.97 526.71L1572.33 525.81L1573.69 524.87L1575.05 523.87L1576.41 522.82L1577.77 521.70L1579.13 520.53L1580.49 519.30L1581.85 518.00L1583.21 516.63L1584.57 515.19L1585.93 513.68L1587.29 512.08L1588.65 510.41L1590.01 508.65L1591.37 506.79L1592.73 504.85L1594.09 502.81L1595.45 500.67L1596.81 498.42L1598.17 496.07L1599.53 493.60L1600.89 491.02L1602.25 488.32L1603.61 485.50L1604.96 482.55L1606.32 479.47L1607.68 476.26L1609.04 472.91L1610.40 469.42L1611.76 465.79L1613.12 462.01L1614.48 458.09L1615.84 454.02L1617.20 449.80L1618.56 445.42L1619.92 440.90L1621.28 436.22L1622.64 431.39L1624.00 426.42L1625.36 421.29L1626.72 416.02L1628.08 410.60L1629.44 405.04L1630.80 399.34L1632.16 393.52L1633.52 387.56L1634.88 381.49L1636.24 375.31L1637.60 369.02L1638.96 362.63L1640.32 356.15L1641.68 349.60L1643.04 342.97L1644.40 336.29L1645.76 329.56L1647.12 322.79L1648.48 316.00L1649.84 309.19L1651.20 302.38L1652.56 295.59L1653.92 288.82L1655.28 282.08L1656.64 275.39L1658.00 268.76L1659.36 262.20L1660.72 255.72L1662.08 249.33L1663.44 243.05L1664.80 236.87L1666.16 230.82L1667.52 224.90L1668.88 219.12L1670.24 213.49L1671.60 208.00L1672.96 202.68L1674.32 197.52L1675.67 192.54L1677.03 187.73L1678.39 183.09L1679.75 178.64L1681.11 174.38L1682.47 170.30L1683.83 166.41L1685.19 162.71L1686.55 159.20L1687.91 155.89L1689.27 152.77L1690.63 149.85L1691.99 147.11L1693.35 144.57L1694.71 142.23L1696.07 140.07L1697.43 138.11L1698.79 136.34L1700.15 134.76L1701.51 133.37L1702.87 132.17L1704.23 131.16L1705.59 130.33L1706.95 129.70L1708.31 129.25L1709.67 128.99L1711.03 128.91L1712.39 129.03L1713.75 129.32L1715.11 129.81L1716.47 130.48L1717.83 131.35L1719.19 132.40L1720.55 133.63L1721.91 135.06L1723.27 136.68L1724.63 138.49L1725.99 140.49L1727.35 142.68L1728.71 145.07L1730.07 147.64L1731.43 150.42L1732.79 153.38L1734.15 156.54L1735.51 159.89L1736.87 163.43L1738.23 167.17L1739.59 171.10L1740.95 175.21L1742.31 179.52L1743.67 184.00L1745.03 188.67L1746.38 193.52L1747.74 198.54L1749.10 203.73L1750.46 209.09L1751.82 214.60L1753.18 220.27L1754.54 226.07L1755.90 232.02L1757.26 238.10L1758.62 244.29L1759.98 250.60L1761.34 257.01L1762.70 263.50L1764.06 270.08L1765.42 276.72L1766.78 283.42L1768.14 290.17L1769.50 296.95L1770.86 303.74L1772.22 310.55L1773.58 317.36L1774.94 324.14L1776.30 330.90L1777.66 337.63L1779.02 344.30L1780.38 350.91L1781.74 357.45L1783.10 363.91L1784.46 370.28L1785.82 376.55L1787.18 382.71L1788.54 388.76L1789.90 394.69L1791.26 400.49L1792.62 406.16L1793.98 411.69L1795.34 417.08L1796.70 422.32L1798.06 427.42L1799.42 432.37L1800.78 437.17L1802.14 441.81L1803.50 446.31L1804.86 450.65L1806.22 454.84L1807.58 458.88L1808.94 462.77L1810.30 466.52L1811.66 470.12L1813.02 473.58L1814.38 476.91L1815.74 480.09L1817.09 483.15L1818.45 486.07L1819.81 488.87L1821.17 491.54L1822.53 494.10L1823.89 496.54L1825.25 498.88L1826.61 501.10L1827.97 503.22L1829.33 505.24L1830.69 507.17L1832.05 509.00L1833.41 510.75L1834.77 512.41L1836.13 513.98L1837.49 515.48L1838.85 516.91L1840.21 518.26L1841.57 519.55L1842.93 520.77L1844.29 521.93L1845.65 523.03L1847.01 524.07L1848.37 525.06L1849.73 525.99L1851.09 526.88L1852.45 527.72L1853.81 528.52L1855.17 529.28L1856.53 529.99L1857.89 530.67L1859.25 531.31L1860.61 531.92L1861.97 532.49L1863.33 533.03L1864.69 533.55L1866.05 534.03L1867.41 534.49L1868.77 534.93L1870.13 535.34L1871.49 535.73L1872.85 536.10L1874.21 536.45L1875.57 536.78L1876.93 537.09L1878.29 537.38L1879.65 537.66L1881.01 537.92L1882.37 538.17L1883.73 538.41L1885.09 538.63L1886.45 538.84L1887.80 539.03L1889.16 539.22L1890.52 539.40L1891.88 539.56L1893.24 539.72L1894.60 539.87L1895.96 540.01L1897.32 540.15L1898.68 540.27L1900.04 540.39L1901.40 540.50L1902.76 540.61L1904.12 540.71L1905.48 540.80L1906.84 540.89L1908.20 540.97L1909.56 541.05L1910.92 541.13L1912.28 541.20L1913.64 541.27L1915.00 541.33L1916.36 541.39L1917.72 541.45L1919.08 541.50L1920.44 541.55L1921.80 541.60" stroke="#fca595" stroke-width="6.7" stroke-linecap="round" stroke-linejoin="round" fill="none"/>
<path d="M1214.70 542.40L1216.06 542.40L1217.42 542.40L1218.78 542.40L1220.14 542.40L1221.50 542.40L1222.86 542.40L1224.22 542.40L1225.58 542.40L1226.94 542.40L1228.30 542.40L1229.66 542.40L1231.02 542.40L1232.38 542.40L1233.74 542.40L1235.10 542.40L1236.46 542.40L1237.82 542.40L1239.18 542.40L1240.54 542.40L1241.90 542.40L1243.26 542.40L1244.62 542.40L1245.98 542.40L1247.34 542.40L1248.70 542.40L1250.06 542.40L1251.41 542.40L1252.77 542.40L1254.13 542.40L1255.49 542.40L1256.85 542.40L1258.21 542.40L1259.57 542.40L1260.93 542.40L1262.29 542.40L1263.65 542.40L1265.01 542.40L1266.37 542.40L1267.73 542.40L1269.09 542.40L1270.45 542.40L1271.81 542.40L1273.17 542.40L1274.53 542.40L1275.89 542.40L1277.25 542.40L1278.61 542.40L1279.97 542.40L1281.33 542.40L1282.69 542.40L1284.05 542.40L1285.41 542.40L1286.77 542.40L1288.13 542.40L1289.49 542.40L1290.85 542.40L1292.21 542.40L1293.57 542.40L1294.93 542.40L1296.29 542.40L1297.65 542.40L1299.01 542.40L1300.37 542.40L1301.73 542.40L1303.09 542.40L1304.45 542.40L1305.81 542.40L1307.17 542.40L1308.53 542.40L1309.89 542.40L1311.25 542.40L1312.61 542.40L1313.97 542.40L1315.33 542.40L1316.69 542.40L1318.05 542.40L1319.41 542.40L1320.77 542.40L1322.12 542.40L1323.48 542.40L1324.84 542.40L1326.20 542.40L1327.56 542.40L1328.92 542.40L1330.28 542.40L1331.64 542.40L1333.00 542.40L1334.36 542.40L1335.72 542.40L1337.08 542.40L1338.44 542.40L1339.80 542.40L1341.16 542.40L1342.52 542.40L1343.88 542.40L1345.24 542.40L1346.60 542.40L1347.96 542.40L1349.32 542.40L1350.68 542.40L1352.04 542.40L1353.40 542.40L1354.76 542.40L1356.12 542.40L1357.48 542.40L1358.84 542.40L1360.20 542.40L1361.56 542.40L1362.92 542.40L1364.28 542.40L1365.64 542.40L1367.00 542.40L1368.36 542.40L1369.72 542.40L1371.08 542.40L1372.44 542.40L1373.80 542.40L1375.16 542.40L1376.52 542.40L1377.88 542.40L1379.24 542.40L1380.60 542.40L1381.96 542.40L1383.32 542.40L1384.68 542.40L1386.04 542.40L1387.40 542.40L1388.76 542.40L1390.12 542.40L1391.47 542.40L1392.83 542.40L1394.19 542.40L1395.55 542.40L1396.91 542.40L1398.27 542.40L1399.63 542.40L1400.99 542.40L1402.35 542.40L1403.71 542.40L1405.07 542.40L1406.43 542.40L1407.79 542.40L1409.15 542.40L1410.51 542.40L1411.87 542.40L1413.23 542.40L1414.59 542.40L1415.95 542.40L1417.31 542.40L1418.67 542.40L1420.03 542.40L1421.39 542.40L1422.75 542.40L1424.11 542.40L1425.47 542.40L1426.83 542.40L1428.19 542.40L1429.55 542.40L1430.91 542.40L1432.27 542.40L1433.63 542.40L1434.99 542.40L1436.35 542.40L1437.71 542.40L1439.07 542.40L1440.43 542.40L1441.79 542.40L1443.15 542.40L1444.51 542.40L1445.87 542.40L1447.23 542.40L1448.59 542.40L1449.95 542.40L1451.31 542.40L1452.67 542.40L1454.03 542.40L1455.39 542.40L1456.75 542.40L1458.11 542.40L1459.47 542.40L1460.83 542.40L1462.18 542.40L1463.54 542.40L1464.90 542.40L1466.26 542.40L1467.62 542.40L1468.98 542.40L1470.34 542.40L1471.70 542.40L1473.06 542.40L1474.42 542.40L1475.78 542.40L1477.14 542.40L1478.50 542.40L1479.86 542.40L1481.22 542.40L1482.58 542.40L1483.94 542.40L1485.30 542.40L1486.66 542.40L1488.02 542.40L1489.38 542.40L1490.74 542.40L1492.10 542.40L1493.46 542.40L1494.82 542.40L1496.18 542.40L1497.54 542.40L1498.90 542.40L1500.26 542.40L1501.62 542.40L1502.98 542.40L1504.34 542.40L1505.70 542.40L1507.06 542.40L1508.42 542.40L1509.78 542.40L1511.14 542.40L1512.50 542.40L1513.86 542.40L1515.22 542.40L1516.58 542.40L1517.94 542.40L1519.30 542.40L1520.66 542.40L1522.02 542.40L1523.38 542.40L1524.74 542.40L1526.10 542.40L1527.46 542.40L1528.82 542.40L1530.18 542.40L1531.54 542.40L1532.89 542.40L1534.25 542.40L1535.61 542.40L1536.97 542.40L1538.33 542.40L1539.69 542.40L1541.05 542.40L1542.41 542.40L1543.77 542.40L1545.13 542.40L1546.49 542.40L1547.85 542.40L1549.21 542.40L1550.57 542.40L1551.93 542.40L1553.29 542.40L1554.65 542.40L1556.01 542.40L1557.37 542.40L1558.73 542.40L1560.09 542.40L1561.45 542.40L1562.81 542.40L1564.17 542.40L1565.53 542.40L1566.89 542.40L1568.25 542.40L1569.61 542.40L1570.97 542.40L1572.33 542.40L1573.69 542.40L1575.05 542.40L1576.41 542.39L1577.77 542.39L1579.13 542.39L1580.49 542.39L1581.85 542.39L1583.21 542.39L1584.57 542.39L1585.93 542.39L1587.29 542.39L1588.65 542.39L1590.01 542.38L1591.37 542.38L1592.73 542.38L1594.09 542.38L1595.45 542.38L1596.81 542.37L1598.17 542.37L1599.53 542.37L1600.89 542.36L1602.25 542.36L1603.61 542.35L1604.96 542.35L1606.32 542.34L1607.68 542.33L1609.04 542.33L1610.40 542.32L1611.76 542.31L1613.12 542.30L1614.48 542.29L1615.84 542.28L1617.20 542.26L1618.56 542.25L1619.92 542.23L1621.28 542.21L1622.64 542.19L1624.00 542.17L1625.36 542.14L1626.72 542.12L1628.08 542.09L1629.44 542.05L1630.80 542.02L1632.16 541.98L1633.52 541.94L1634.88 541.89L1636.24 541.84L1637.60 541.78L1638.96 541.72L1640.32 541.66L1641.68 541.59L1643.04 541.51L1644.40 541.42L1645.76 541.33L1647.12 541.23L1648.48 541.13L1649.84 541.01L1651.20 540.89L1652.56 540.75L1653.92 540.60L1655.28 540.45L1656.64 540.28L1658.00 540.10L1659.36 539.90L1660.72 539.69L1662.08 539.47L1663.44 539.23L1664.80 538.97L1666.16 538.70L1667.52 538.40L1668.88 538.09L1670.24 537.75L1671.60 537.40L1672.96 537.02L1674.32 536.61L1675.67 536.18L1677.03 535.72L1678.39 535.23L1679.75 534.71L1681.11 534.16L1682.47 533.58L1683.83 532.96L1685.19 532.30L1686.55 531.60L1687.91 530.86L1689.27 530.08L1690.63 529.25L1691.99 528.37L1693.35 527.45L1694.71 526.47L1696.07 525.43L1697.43 524.34L1698.79 523.19L1700.15 521.97L1701.51 520.69L1702.87 519.33L1704.23 517.90L1705.59 516.40L1706.95 514.82L1708.31 513.15L1709.67 511.40L1711.03 509.56L1712.39 507.62L1713.75 505.58L1715.11 503.45L1716.47 501.21L1717.83 498.86L1719.19 496.40L1720.55 493.82L1721.91 491.12L1723.27 488.30L1724.63 485.35L1725.99 482.26L1727.35 479.05L1728.71 475.70L1730.07 472.20L1731.43 468.56L1732.79 464.78L1734.15 460.85L1735.51 456.77L1736.87 452.53L1738.23 448.15L1739.59 443.61L1740.95 438.91L1742.31 434.07L1743.67 429.07L1745.03 423.91L1746.38 418.61L1747.74 413.17L1749.10 407.57L1750.46 401.84L1751.82 395.98L1753.18 389.98L1754.54 383.86L1755.90 377.62L1757.26 371.28L1758.62 364.83L1759.98 358.29L1761.34 351.66L1762.70 344.96L1764.06 338.19L1765.42 331.36L1766.78 324.50L1768.14 317.60L1769.50 310.68L1770.86 303.74L1772.22 296.81L1773.58 289.90L1774.94 283.00L1776.30 276.14L1777.66 269.33L1779.02 262.58L1780.38 255.89L1781.74 249.28L1783.10 242.75L1784.46 236.32L1785.82 230.00L1787.18 223.78L1788.54 217.69L1789.90 211.72L1791.26 205.88L1792.62 200.18L1793.98 194.62L1795.34 189.20L1796.70 183.93L1798.06 178.81L1799.42 173.84L1800.78 169.02L1802.14 164.35L1803.50 159.84L1804.86 155.49L1806.22 151.28L1807.58 147.23L1808.94 143.33L1810.30 139.57L1811.66 135.96L1813.02 132.49L1814.38 129.16L1815.74 125.97L1817.09 122.91L1818.45 119.98L1819.81 117.17L1821.17 114.49L1822.53 111.93L1823.89 109.49L1825.25 107.15L1826.61 104.92L1827.97 102.80L1829.33 100.78L1830.69 98.85L1832.05 97.01L1833.41 95.27L1834.77 93.61L1836.13 92.03L1837.49 90.53L1838.85 89.10L1840.21 87.74L1841.57 86.46L1842.93 85.24L1844.29 84.08L1845.65 82.98L1847.01 81.94L1848.37 80.95L1849.73 80.01L1851.09 79.12L1852.45 78.28L1853.81 77.48L1855.17 76.73L1856.53 76.01L1857.89 75.33L1859.25 74.69L1860.61 74.09L1861.97 73.51L1863.33 72.97L1864.69 72.45L1866.05 71.97L1867.41 71.51L1868.77 71.07L1870.13 70.66L1871.49 70.27L1872.85 69.90L1874.21 69.55L1875.57 69.22L1876.93 68.91L1878.29 68.62L1879.65 68.34L1881.01 68.08L1882.37 67.83L1883.73 67.60L1885.09 67.37L1886.45 67.16L1887.80 66.97L1889.16 66.78L1890.52 66.60L1891.88 66.44L1893.24 66.28L1894.60 66.13L1895.96 65.99L1897.32 65.85L1898.68 65.73L1900.04 65.61L1901.40 65.50L1902.76 65.39L1904.12 65.29L1905.48 65.20L1906.84 65.11L1908.20 65.03L1909.56 64.95L1910.92 64.87L1912.28 64.80L1913.64 64.73L1915.00 64.67L1916.36 64.61L1917.72 64.55L1919.08 64.50L1920.44 64.45L1921.80 64.40" stroke="#ff0000" stroke-width="4.9" stroke-linecap="round" stroke-linejoin="round" fill="none"/>
<path d="M1273.0 77.0L1246.0 124.0" stroke="#000" stroke-width="1.4" fill="none"/>
<path d="M1396.0 210.0L1516.0 274.6" stroke="#000" stroke-width="1.4" fill="none"/>
<path d="M1707.0 137.0L1718.7 191.8" stroke="#000" stroke-width="1.4" fill="none"/>
<path d="M1833.3 95.6L1861.8 156.2" stroke="#000" stroke-width="1.4" fill="none"/>
<text x="1196.2" y="550.2" font-size="21.9" text-anchor="end">0</text>
<text x="1196.2" y="502.4" font-size="21.9" text-anchor="end">0.1</text>
<text x="1196.2" y="454.5" font-size="21.9" text-anchor="end">0.2</text>
<text x="1196.2" y="406.6" font-size="21.9" text-anchor="end">0.3</text>
<text x="1196.2" y="358.7" font-size="21.9" text-anchor="end">0.4</text>
<text x="1196.2" y="310.8" font-size="21.9" text-anchor="end">0.5</text>
<text x="1196.2" y="263.0" font-size="21.9" text-anchor="end">0.6</text>
<text x="1196.2" y="215.1" font-size="21.9" text-anchor="end">0.7</text>
<text x="1196.2" y="167.2" font-size="21.9" text-anchor="end">0.8</text>
<text x="1196.2" y="119.3" font-size="21.9" text-anchor="end">0.9</text>
<text x="1196.2" y="71.4" font-size="21.9" text-anchor="end">1</text>
<text x="1214.7" y="577.3" font-size="21.9" text-anchor="middle">0</text>
<text x="1269.1" y="577.3" font-size="21.9" text-anchor="middle">1</text>
<text x="1323.5" y="577.3" font-size="21.9" text-anchor="middle">2</text>
<text x="1377.9" y="577.3" font-size="21.9" text-anchor="middle">3</text>
<text x="1432.3" y="577.3" font-size="21.9" text-anchor="middle">4</text>
<text x="1486.7" y="577.3" font-size="21.9" text-anchor="middle">5</text>
<text x="1541.1" y="577.3" font-size="21.9" text-anchor="middle">6</text>
<text x="1595.4" y="577.3" font-size="21.9" text-anchor="middle">7</text>
<text x="1649.8" y="577.3" font-size="21.9" text-anchor="middle">8</text>
<text x="1704.2" y="577.3" font-size="21.9" text-anchor="middle">9</text>
<text x="1759.8" y="577.3" font-size="21.9" text-anchor="middle">10</text>
<text x="1814.2" y="577.3" font-size="21.9" text-anchor="middle">11</text>
<text x="1868.6" y="577.3" font-size="21.9" text-anchor="middle">12</text>
<text x="1923.0" y="577.3" font-size="21.9" text-anchor="middle">13</text>
<text x="1941.6" y="71.4" font-size="21.9">1</text>
<text x="1941.6" y="151.2" font-size="21.9">0.5</text>
<text x="1941.6" y="231.0" font-size="21.9">0</text>
<text x="1941.6" y="310.8" font-size="21.9">-0.5</text>
<text x="1941.6" y="390.6" font-size="21.9">-1</text>
<text x="1941.6" y="470.4" font-size="21.9">-1.5</text>
<text x="1941.6" y="550.2" font-size="21.9">-2</text>
<text x="1058.0" y="24.7" font-size="28.0">b</text>
<text x="1593.0" y="38.9" font-size="29.4" text-anchor="middle">Absence of acidic gatekeepers in the APR</text>
<text x="1567.9" y="601.0" font-size="29.8" text-anchor="middle">pH</text>
<text x="1575.0" y="635.1" font-size="29.2" text-anchor="middle" fill="#548235">Extended pH-range of amyloid formation</text>
<text transform="translate(1100.2 290.3) rotate(-90)" font-size="29.9" text-anchor="middle">relative abundance of</text>
<text transform="translate(1134.5 290.3) rotate(-90)" font-size="29.9" text-anchor="middle">protonation microspecies</text>
<text transform="translate(2028.0 323.0) rotate(-90)" font-size="29.9" text-anchor="middle">Overall charge</text>
<text transform="translate(1242.5 127.5) rotate(90)" font-size="21.20"><tspan fill="#0070c0">NH</tspan><tspan fill="#0070c0" font-size="13.8" dy="5.09">3</tspan><tspan fill="#0070c0" font-size="13.8" dy="-11.66">+</tspan><tspan fill="#0070c0" dy="6.57">-</tspan><tspan fill="#000">LYIQWL-COOH</tspan></text>
<text transform="translate(1508.0 287.0) rotate(90)" font-size="21.20"><tspan fill="#0070c0">NH</tspan><tspan fill="#0070c0" font-size="13.8" dy="5.09">3</tspan><tspan fill="#0070c0" font-size="13.8" dy="-11.66">+</tspan><tspan fill="#0070c0" dy="6.57">-</tspan><tspan fill="#000">LYIQWL-</tspan><tspan fill="#ff0000">COO</tspan><tspan fill="#ff0000" font-size="13.8" dy="-6.57">-</tspan></text>
<text transform="translate(1714.2 199.0) rotate(90)" font-size="21.20"><tspan fill="#000">NH</tspan><tspan fill="#000" font-size="13.8" dy="5.09">2</tspan><tspan fill="#000" dy="-5.09">-LYIQWL-</tspan><tspan fill="#ff0000">COO</tspan><tspan fill="#ff0000" font-size="13.8" dy="-6.57">-</tspan></text>
<text transform="translate(1858.2 186.7) rotate(90)" font-size="21.20"><tspan fill="#000">NH</tspan><tspan fill="#000" font-size="13.8" dy="5.09">2</tspan><tspan fill="#000" dy="-5.09">-L</tspan><tspan fill="#ff0000">Y</tspan><tspan fill="#000">IQWL-</tspan><tspan fill="#ff0000">COO</tspan><tspan fill="#ff0000" font-size="13.8" dy="-6.57">-</tspan></text>
</svg>
</body></html>
